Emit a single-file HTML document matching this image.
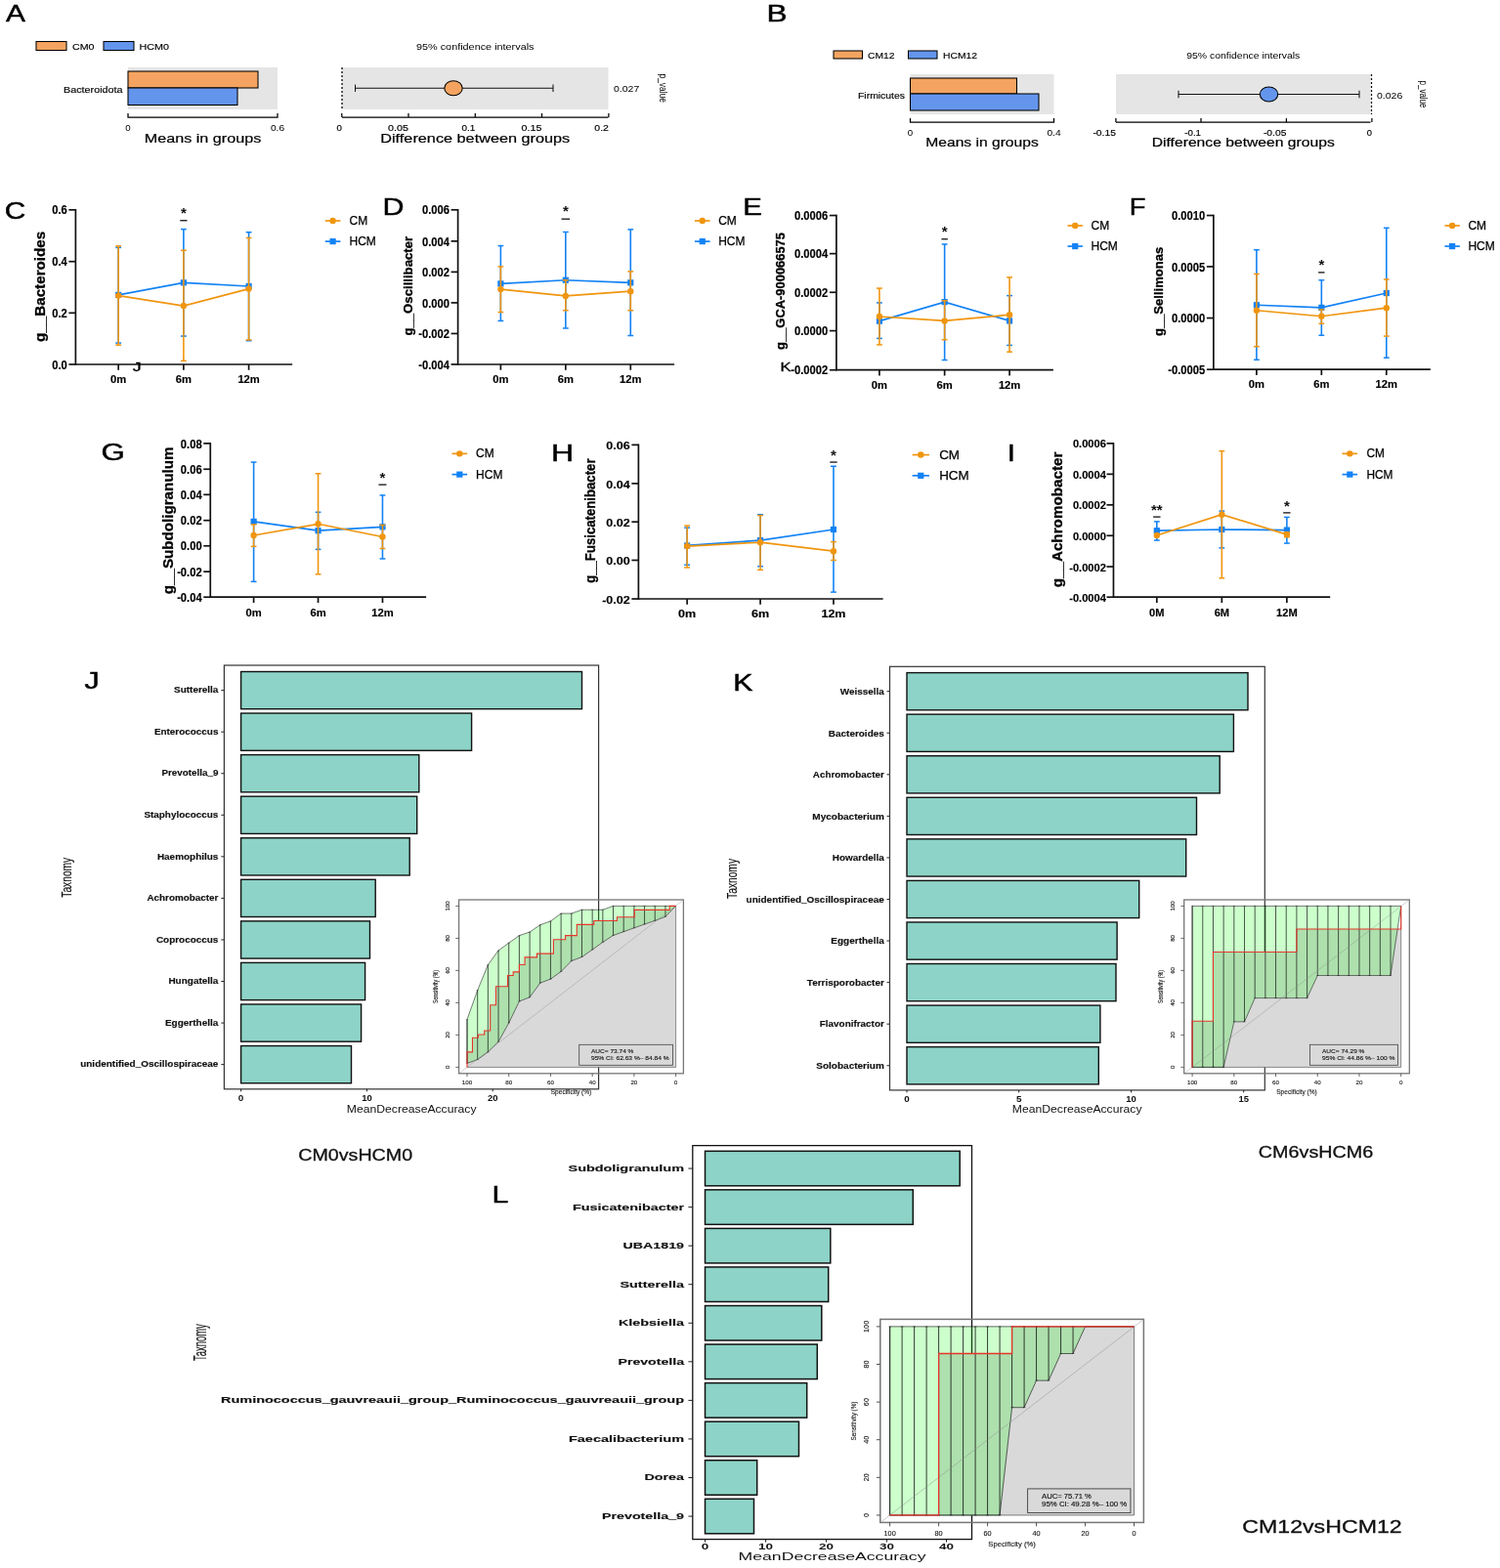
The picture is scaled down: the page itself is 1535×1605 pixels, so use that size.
<!DOCTYPE html>
<html lang="en">
<head>
<meta charset="utf-8">
<title>Figure</title>
<style>
html,body{margin:0;padding:0;background:#fff;}
body{width:1535px;height:1605px;overflow:hidden;}
svg{display:block;font-family:"Liberation Sans",sans-serif;}
</style>
</head>
<body>
<svg width="1535" height="1605" viewBox="0 0 1535 1605">
<rect x="0" y="0" width="1535" height="1605" fill="#ffffff"/>
<text font-size="24.49" transform="translate(6.1 21.8) scale(1.2218 1)" stroke="#000" stroke-width="0.45">A</text>
<rect x="37" y="42.5" width="31" height="9" fill="#F4A460" stroke="#000" stroke-width="1.05" />
<text x="74" y="51.2" font-size="9.4" textLength="22.5" lengthAdjust="spacingAndGlyphs" stroke="#000" stroke-width="0.15">CM0</text>
<rect x="106" y="42.5" width="31" height="9" fill="#6495ED" stroke="#000" stroke-width="1.05" />
<text x="142.5" y="51.2" font-size="9.4" textLength="30.5" lengthAdjust="spacingAndGlyphs" stroke="#000" stroke-width="0.15">HCM0</text>
<rect x="131" y="69" width="153" height="43" fill="#E5E5E5" stroke="none" stroke-width="1" />
<rect x="131" y="73" width="133" height="17" fill="#F4A460" stroke="#000" stroke-width="1.05" />
<rect x="131" y="90" width="112" height="17.5" fill="#6495ED" stroke="#000" stroke-width="1.05" />
<text x="125.5" y="95" font-size="9.8" textLength="60.5" lengthAdjust="spacingAndGlyphs" text-anchor="end" stroke="#000" stroke-width="0.15">Bacteroidota</text>
<path d="M131 116 L131 120 L284 120 L284 116" fill="none" stroke="#000" stroke-width="1.25" />
<text x="131" y="133.6" font-size="8.6" textLength="5.4" lengthAdjust="spacingAndGlyphs" text-anchor="middle">0</text>
<text x="284" y="133.6" font-size="8.6" textLength="14.2" lengthAdjust="spacingAndGlyphs" text-anchor="middle">0.6</text>
<text x="207.5" y="146.4" font-size="12.9" textLength="119.5" lengthAdjust="spacingAndGlyphs" text-anchor="middle" stroke="#000" stroke-width="0.2">Means in groups</text>
<rect x="350" y="69" width="272.5" height="43" fill="#E5E5E5" stroke="none" stroke-width="1" />
<line x1="350" y1="69" x2="350" y2="112" stroke="#000" stroke-width="1.25" stroke-dasharray="2 2"/>
<line x1="363.5" y1="90.25" x2="566" y2="90.25" stroke="#111" stroke-width="1.05" />
<line x1="363.5" y1="86.55" x2="363.5" y2="93.95" stroke="#111" stroke-width="1.05" />
<line x1="566" y1="86.55" x2="566" y2="93.95" stroke="#111" stroke-width="1.05" />
<ellipse cx="464" cy="90.25" rx="9.2" ry="7.5" fill="#F4A460" stroke="#000" stroke-width="1.05"/>
<line x1="350" y1="120" x2="622.5" y2="120" stroke="#000" stroke-width="1.25" />
<line x1="349.8" y1="116" x2="349.8" y2="120" stroke="#000" stroke-width="1.25" />
<text x="349.8" y="133.6" font-size="8.6" textLength="5.4" lengthAdjust="spacingAndGlyphs" text-anchor="end" stroke="#000" stroke-width="0.15">0</text>
<line x1="418" y1="116" x2="418" y2="120" stroke="#000" stroke-width="1.25" />
<text x="418" y="133.6" font-size="8.6" textLength="20.9" lengthAdjust="spacingAndGlyphs" text-anchor="end" stroke="#000" stroke-width="0.15">0.05</text>
<line x1="486.3" y1="116" x2="486.3" y2="120" stroke="#000" stroke-width="1.25" />
<text x="486.3" y="133.6" font-size="8.6" textLength="13.8" lengthAdjust="spacingAndGlyphs" text-anchor="end" stroke="#000" stroke-width="0.15">0.1</text>
<line x1="554.5" y1="116" x2="554.5" y2="120" stroke="#000" stroke-width="1.25" />
<text x="554.5" y="133.6" font-size="8.6" textLength="20.9" lengthAdjust="spacingAndGlyphs" text-anchor="end" stroke="#000" stroke-width="0.15">0.15</text>
<line x1="622.9" y1="116" x2="622.9" y2="120" stroke="#000" stroke-width="1.25" />
<text x="622.9" y="133.6" font-size="8.6" textLength="14.6" lengthAdjust="spacingAndGlyphs" text-anchor="end" stroke="#000" stroke-width="0.15">0.2</text>
<text x="486.25" y="146.4" font-size="12.6" textLength="194" lengthAdjust="spacingAndGlyphs" text-anchor="middle" stroke="#000" stroke-width="0.2">Difference between groups</text>
<text x="486.25" y="51" font-size="9.4" textLength="120.5" lengthAdjust="spacingAndGlyphs" text-anchor="middle">95% confidence intervals</text>
<text x="628" y="94.25" font-size="8.6" textLength="26.3" lengthAdjust="spacingAndGlyphs">0.027</text>
<text x="675" y="75.5" font-size="10.5" transform="rotate(90 675 75.5)" textLength="29.5" lengthAdjust="spacingAndGlyphs">p_value</text>
<text font-size="24.35" transform="translate(784.57 21.7) scale(1.2974 1)" stroke="#000" stroke-width="0.45">B</text>
<rect x="853" y="52" width="29.5" height="8" fill="#F4A460" stroke="#000" stroke-width="1.05" />
<text x="888" y="59.7" font-size="9.4" textLength="27.5" lengthAdjust="spacingAndGlyphs" stroke="#000" stroke-width="0.15">CM12</text>
<rect x="929.5" y="52" width="29.5" height="8" fill="#6495ED" stroke="#000" stroke-width="1.05" />
<text x="965" y="59.7" font-size="9.4" textLength="35" lengthAdjust="spacingAndGlyphs" stroke="#000" stroke-width="0.15">HCM12</text>
<rect x="931.5" y="76" width="147" height="41" fill="#E5E5E5" stroke="none" stroke-width="1" />
<rect x="931.5" y="80" width="109" height="16" fill="#F4A460" stroke="#000" stroke-width="1.05" />
<rect x="931.5" y="96" width="131.5" height="17" fill="#6495ED" stroke="#000" stroke-width="1.05" />
<text x="926" y="100.5" font-size="9.8" textLength="48" lengthAdjust="spacingAndGlyphs" text-anchor="end" stroke="#000" stroke-width="0.15">Firmicutes</text>
<path d="M931.5 121.1 L931.5 125.1 L1078.5 125.1 L1078.5 121.1" fill="none" stroke="#000" stroke-width="1.25" />
<text x="931.5" y="138.7" font-size="8.6" textLength="5.4" lengthAdjust="spacingAndGlyphs" text-anchor="middle">0</text>
<text x="1078.5" y="138.7" font-size="8.6" textLength="14.2" lengthAdjust="spacingAndGlyphs" text-anchor="middle">0.4</text>
<text x="1005" y="150.3" font-size="12.9" textLength="115.5" lengthAdjust="spacingAndGlyphs" text-anchor="middle" stroke="#000" stroke-width="0.2">Means in groups</text>
<rect x="1142" y="76" width="260.5" height="41" fill="#E5E5E5" stroke="none" stroke-width="1" />
<line x1="1403.5" y1="76" x2="1403.5" y2="117" stroke="#000" stroke-width="1.25" stroke-dasharray="2 2"/>
<line x1="1206" y1="96.5" x2="1391" y2="96.5" stroke="#111" stroke-width="1.05" />
<line x1="1206" y1="92.8" x2="1206" y2="100.2" stroke="#111" stroke-width="1.05" />
<line x1="1391" y1="92.8" x2="1391" y2="100.2" stroke="#111" stroke-width="1.05" />
<ellipse cx="1298.5" cy="96.5" rx="9.2" ry="7.5" fill="#6495ED" stroke="#000" stroke-width="1.05"/>
<line x1="1142" y1="125.1" x2="1402.5" y2="125.1" stroke="#000" stroke-width="1.25" />
<line x1="1141.9" y1="121.1" x2="1141.9" y2="125.1" stroke="#000" stroke-width="1.25" />
<text x="1141.9" y="138.7" font-size="8.6" textLength="23.5" lengthAdjust="spacingAndGlyphs" text-anchor="end" stroke="#000" stroke-width="0.15">-0.15</text>
<line x1="1229" y1="121.1" x2="1229" y2="125.1" stroke="#000" stroke-width="1.25" />
<text x="1229" y="138.7" font-size="8.6" textLength="16.7" lengthAdjust="spacingAndGlyphs" text-anchor="end" stroke="#000" stroke-width="0.15">-0.1</text>
<line x1="1316.4" y1="121.1" x2="1316.4" y2="125.1" stroke="#000" stroke-width="1.25" />
<text x="1316.4" y="138.7" font-size="8.6" textLength="23.5" lengthAdjust="spacingAndGlyphs" text-anchor="end" stroke="#000" stroke-width="0.15">-0.05</text>
<line x1="1403.9" y1="121.1" x2="1403.9" y2="125.1" stroke="#000" stroke-width="1.25" />
<text x="1403.9" y="138.7" font-size="8.6" textLength="5.2" lengthAdjust="spacingAndGlyphs" text-anchor="end" stroke="#000" stroke-width="0.15">0</text>
<text x="1272.25" y="150.3" font-size="12.6" textLength="187" lengthAdjust="spacingAndGlyphs" text-anchor="middle" stroke="#000" stroke-width="0.2">Difference between groups</text>
<text x="1272.25" y="60" font-size="9.4" textLength="116" lengthAdjust="spacingAndGlyphs" text-anchor="middle">95% confidence intervals</text>
<text x="1409" y="100.5" font-size="8.6" textLength="26.3" lengthAdjust="spacingAndGlyphs">0.026</text>
<text x="1453" y="82.5" font-size="10.5" transform="rotate(90 1453 82.5)" textLength="28" lengthAdjust="spacingAndGlyphs">p_value</text>
<line x1="121.17" y1="253.37" x2="121.17" y2="351.09" stroke="#1282F5" stroke-width="1.6" />
<line x1="118.27" y1="253.37" x2="124.07" y2="253.37" stroke="#1282F5" stroke-width="1.5" />
<line x1="118.27" y1="351.09" x2="124.07" y2="351.09" stroke="#1282F5" stroke-width="1.5" />
<line x1="187.88" y1="234.61" x2="187.88" y2="344.06" stroke="#1282F5" stroke-width="1.6" />
<line x1="184.98" y1="234.61" x2="190.78" y2="234.61" stroke="#1282F5" stroke-width="1.5" />
<line x1="184.98" y1="344.06" x2="190.78" y2="344.06" stroke="#1282F5" stroke-width="1.5" />
<line x1="254.59" y1="237.74" x2="254.59" y2="348.75" stroke="#1282F5" stroke-width="1.6" />
<line x1="251.69" y1="237.74" x2="257.49" y2="237.74" stroke="#1282F5" stroke-width="1.5" />
<line x1="251.69" y1="348.75" x2="257.49" y2="348.75" stroke="#1282F5" stroke-width="1.5" />
<path d="M121.17 301.84 L187.88 289.33 L254.59 292.98" fill="none" stroke="#1282F5" stroke-width="1.7" />
<rect x="118.07" y="298.74" width="6.2" height="6.2" fill="#1282F5" stroke="none" stroke-width="1" />
<rect x="184.78" y="286.23" width="6.2" height="6.2" fill="#1282F5" stroke="none" stroke-width="1" />
<rect x="251.49" y="289.88" width="6.2" height="6.2" fill="#1282F5" stroke="none" stroke-width="1" />
<line x1="121.17" y1="251.81" x2="121.17" y2="353.18" stroke="#F0950F" stroke-width="1.6" />
<line x1="118.27" y1="251.81" x2="124.07" y2="251.81" stroke="#F0950F" stroke-width="1.5" />
<line x1="118.27" y1="353.18" x2="124.07" y2="353.18" stroke="#F0950F" stroke-width="1.5" />
<line x1="187.88" y1="256.24" x2="187.88" y2="369.33" stroke="#F0950F" stroke-width="1.6" />
<line x1="184.98" y1="256.24" x2="190.78" y2="256.24" stroke="#F0950F" stroke-width="1.5" />
<line x1="184.98" y1="369.33" x2="190.78" y2="369.33" stroke="#F0950F" stroke-width="1.5" />
<line x1="254.59" y1="243.47" x2="254.59" y2="347.96" stroke="#F0950F" stroke-width="1.6" />
<line x1="251.69" y1="243.47" x2="257.49" y2="243.47" stroke="#F0950F" stroke-width="1.5" />
<line x1="251.69" y1="347.96" x2="257.49" y2="347.96" stroke="#F0950F" stroke-width="1.5" />
<path d="M121.17 302.62 L187.88 313.05 L254.59 295.59" fill="none" stroke="#F0950F" stroke-width="1.7" />
<circle cx="121.17" cy="302.62" r="3.2" fill="#F0950F" stroke="none" stroke-width="1"/>
<circle cx="187.88" cy="313.05" r="3.2" fill="#F0950F" stroke="none" stroke-width="1"/>
<circle cx="254.59" cy="295.59" r="3.2" fill="#F0950F" stroke="none" stroke-width="1"/>
<line x1="77.39" y1="213.95" x2="77.39" y2="373.83" stroke="#111" stroke-width="1.7" />
<line x1="77.39" y1="372.98" x2="299.15" y2="372.98" stroke="#111" stroke-width="1.7" />
<line x1="70.39" y1="214.8" x2="77.39" y2="214.8" stroke="#111" stroke-width="1.7" />
<text x="68.79" y="219.44" font-size="11.87" textLength="15.57" lengthAdjust="spacingAndGlyphs" font-weight="bold" text-anchor="end" stroke="#000" stroke-width="0.15">0.6</text>
<line x1="70.39" y1="267.7" x2="77.39" y2="267.7" stroke="#111" stroke-width="1.7" />
<text x="68.79" y="272.34" font-size="11.87" textLength="15.57" lengthAdjust="spacingAndGlyphs" font-weight="bold" text-anchor="end" stroke="#000" stroke-width="0.15">0.4</text>
<line x1="70.39" y1="320.34" x2="77.39" y2="320.34" stroke="#111" stroke-width="1.7" />
<text x="68.79" y="324.98" font-size="11.87" textLength="15.57" lengthAdjust="spacingAndGlyphs" font-weight="bold" text-anchor="end" stroke="#000" stroke-width="0.15">0.2</text>
<line x1="70.39" y1="372.98" x2="77.39" y2="372.98" stroke="#111" stroke-width="1.7" />
<text x="68.79" y="377.62" font-size="11.87" textLength="15.57" lengthAdjust="spacingAndGlyphs" font-weight="bold" text-anchor="end" stroke="#000" stroke-width="0.15">0.0</text>
<line x1="121.17" y1="372.98" x2="121.17" y2="378.78" stroke="#111" stroke-width="1.7" />
<text x="121.17" y="392.28" font-size="11.2" textLength="16.19" lengthAdjust="spacingAndGlyphs" font-weight="bold" text-anchor="middle" stroke="#000" stroke-width="0.15">0m</text>
<line x1="187.88" y1="372.98" x2="187.88" y2="378.78" stroke="#111" stroke-width="1.7" />
<text x="187.88" y="392.28" font-size="11.2" textLength="16.19" lengthAdjust="spacingAndGlyphs" font-weight="bold" text-anchor="middle" stroke="#000" stroke-width="0.15">6m</text>
<line x1="254.59" y1="372.98" x2="254.59" y2="378.78" stroke="#111" stroke-width="1.7" />
<text x="254.59" y="392.28" font-size="11.2" textLength="22.42" lengthAdjust="spacingAndGlyphs" font-weight="bold" text-anchor="middle" stroke="#000" stroke-width="0.15">12m</text>
<text x="45.86" y="350.05" font-size="14.5" transform="rotate(-90 45.86 350.05)" textLength="113.36" lengthAdjust="spacingAndGlyphs" font-weight="bold" stroke="#000" stroke-width="0.3">g__Bacteroides</text>
<line x1="332.77" y1="226.01" x2="348.4" y2="226.01" stroke="#F0950F" stroke-width="1.7" />
<circle cx="340.59" cy="226.01" r="3.2" fill="#F0950F" stroke="none" stroke-width="1"/>
<text x="357.52" y="230.01" font-size="12.72" textLength="18.66" lengthAdjust="spacingAndGlyphs" stroke="#000" stroke-width="0.25">CM</text>
<line x1="332.77" y1="247.12" x2="348.4" y2="247.12" stroke="#1282F5" stroke-width="1.7" />
<rect x="337.49" y="244.02" width="6.2" height="6.2" fill="#1282F5" stroke="none" stroke-width="1" />
<text x="357.52" y="251.12" font-size="12.72" textLength="27.33" lengthAdjust="spacingAndGlyphs" stroke="#000" stroke-width="0.25">HCM</text>
<text x="187.88" y="223.02" font-size="15" font-weight="bold" text-anchor="middle" fill="#111">*</text>
<line x1="184.28" y1="225.75" x2="191.48" y2="225.75" stroke="#111" stroke-width="1.3" />
<text font-size="24.37" transform="translate(4.81 223.66) scale(1.2215 1)" stroke="#000" stroke-width="0.45">C</text>
<line x1="512.38" y1="251.55" x2="512.38" y2="328.42" stroke="#1282F5" stroke-width="1.6" />
<line x1="509.48" y1="251.55" x2="515.28" y2="251.55" stroke="#1282F5" stroke-width="1.5" />
<line x1="509.48" y1="328.42" x2="515.28" y2="328.42" stroke="#1282F5" stroke-width="1.5" />
<line x1="578.83" y1="237.48" x2="578.83" y2="335.98" stroke="#1282F5" stroke-width="1.6" />
<line x1="575.93" y1="237.48" x2="581.73" y2="237.48" stroke="#1282F5" stroke-width="1.5" />
<line x1="575.93" y1="335.98" x2="581.73" y2="335.98" stroke="#1282F5" stroke-width="1.5" />
<line x1="645.28" y1="234.87" x2="645.28" y2="343.53" stroke="#1282F5" stroke-width="1.6" />
<line x1="642.38" y1="234.87" x2="648.18" y2="234.87" stroke="#1282F5" stroke-width="1.5" />
<line x1="642.38" y1="343.53" x2="648.18" y2="343.53" stroke="#1282F5" stroke-width="1.5" />
<path d="M512.38 290.37 L578.83 286.73 L645.28 289.33" fill="none" stroke="#1282F5" stroke-width="1.7" />
<rect x="509.28" y="287.27" width="6.2" height="6.2" fill="#1282F5" stroke="none" stroke-width="1" />
<rect x="575.73" y="283.63" width="6.2" height="6.2" fill="#1282F5" stroke="none" stroke-width="1" />
<rect x="642.18" y="286.23" width="6.2" height="6.2" fill="#1282F5" stroke="none" stroke-width="1" />
<line x1="512.38" y1="272.92" x2="512.38" y2="319.56" stroke="#F0950F" stroke-width="1.6" />
<line x1="509.48" y1="272.92" x2="515.28" y2="272.92" stroke="#F0950F" stroke-width="1.5" />
<line x1="509.48" y1="319.56" x2="515.28" y2="319.56" stroke="#F0950F" stroke-width="1.5" />
<line x1="578.83" y1="286.73" x2="578.83" y2="317.74" stroke="#F0950F" stroke-width="1.6" />
<line x1="575.93" y1="286.73" x2="581.73" y2="286.73" stroke="#F0950F" stroke-width="1.5" />
<line x1="575.93" y1="317.74" x2="581.73" y2="317.74" stroke="#F0950F" stroke-width="1.5" />
<line x1="645.28" y1="277.87" x2="645.28" y2="317.74" stroke="#F0950F" stroke-width="1.6" />
<line x1="642.38" y1="277.87" x2="648.18" y2="277.87" stroke="#F0950F" stroke-width="1.5" />
<line x1="642.38" y1="317.74" x2="648.18" y2="317.74" stroke="#F0950F" stroke-width="1.5" />
<path d="M512.38 296.11 L578.83 302.88 L645.28 298.19" fill="none" stroke="#F0950F" stroke-width="1.7" />
<circle cx="512.38" cy="296.11" r="3.2" fill="#F0950F" stroke="none" stroke-width="1"/>
<circle cx="578.83" cy="302.88" r="3.2" fill="#F0950F" stroke="none" stroke-width="1"/>
<circle cx="645.28" cy="298.19" r="3.2" fill="#F0950F" stroke="none" stroke-width="1"/>
<line x1="468.6" y1="213.95" x2="468.6" y2="373.83" stroke="#111" stroke-width="1.7" />
<line x1="468.6" y1="372.98" x2="690.1" y2="372.98" stroke="#111" stroke-width="1.7" />
<line x1="461.6" y1="214.8" x2="468.6" y2="214.8" stroke="#111" stroke-width="1.7" />
<text x="460" y="219.44" font-size="11.87" textLength="28.03" lengthAdjust="spacingAndGlyphs" font-weight="bold" text-anchor="end" stroke="#000" stroke-width="0.15">0.006</text>
<line x1="461.6" y1="246.86" x2="468.6" y2="246.86" stroke="#111" stroke-width="1.7" />
<text x="460" y="251.5" font-size="11.87" textLength="28.03" lengthAdjust="spacingAndGlyphs" font-weight="bold" text-anchor="end" stroke="#000" stroke-width="0.15">0.004</text>
<line x1="461.6" y1="278.39" x2="468.6" y2="278.39" stroke="#111" stroke-width="1.7" />
<text x="460" y="283.03" font-size="11.87" textLength="28.03" lengthAdjust="spacingAndGlyphs" font-weight="bold" text-anchor="end" stroke="#000" stroke-width="0.15">0.002</text>
<line x1="461.6" y1="309.92" x2="468.6" y2="309.92" stroke="#111" stroke-width="1.7" />
<text x="460" y="314.56" font-size="11.87" textLength="28.03" lengthAdjust="spacingAndGlyphs" font-weight="bold" text-anchor="end" stroke="#000" stroke-width="0.15">0.000</text>
<line x1="461.6" y1="341.45" x2="468.6" y2="341.45" stroke="#111" stroke-width="1.7" />
<text x="460" y="346.09" font-size="11.87" textLength="31.76" lengthAdjust="spacingAndGlyphs" font-weight="bold" text-anchor="end" stroke="#000" stroke-width="0.15">-0.002</text>
<line x1="461.6" y1="372.98" x2="468.6" y2="372.98" stroke="#111" stroke-width="1.7" />
<text x="460" y="377.62" font-size="11.87" textLength="31.76" lengthAdjust="spacingAndGlyphs" font-weight="bold" text-anchor="end" stroke="#000" stroke-width="0.15">-0.004</text>
<line x1="512.38" y1="372.98" x2="512.38" y2="378.78" stroke="#111" stroke-width="1.7" />
<text x="512.38" y="392.28" font-size="11.2" textLength="16.19" lengthAdjust="spacingAndGlyphs" font-weight="bold" text-anchor="middle" stroke="#000" stroke-width="0.15">0m</text>
<line x1="578.83" y1="372.98" x2="578.83" y2="378.78" stroke="#111" stroke-width="1.7" />
<text x="578.83" y="392.28" font-size="11.2" textLength="16.19" lengthAdjust="spacingAndGlyphs" font-weight="bold" text-anchor="middle" stroke="#000" stroke-width="0.15">6m</text>
<line x1="645.28" y1="372.98" x2="645.28" y2="378.78" stroke="#111" stroke-width="1.7" />
<text x="645.28" y="392.28" font-size="11.2" textLength="22.42" lengthAdjust="spacingAndGlyphs" font-weight="bold" text-anchor="middle" stroke="#000" stroke-width="0.15">12m</text>
<text x="422.48" y="343.53" font-size="13" transform="rotate(-90 422.48 343.53)" textLength="101.63" lengthAdjust="spacingAndGlyphs" font-weight="bold" stroke="#000" stroke-width="0.3">g__Oscillibacter</text>
<line x1="710.94" y1="226.01" x2="726.58" y2="226.01" stroke="#F0950F" stroke-width="1.7" />
<circle cx="718.76" cy="226.01" r="3.2" fill="#F0950F" stroke="none" stroke-width="1"/>
<text x="735.18" y="230.01" font-size="12.72" textLength="18.66" lengthAdjust="spacingAndGlyphs" stroke="#000" stroke-width="0.25">CM</text>
<line x1="710.94" y1="247.12" x2="726.58" y2="247.12" stroke="#1282F5" stroke-width="1.7" />
<rect x="715.66" y="244.02" width="6.2" height="6.2" fill="#1282F5" stroke="none" stroke-width="1" />
<text x="735.18" y="251.12" font-size="12.72" textLength="27.33" lengthAdjust="spacingAndGlyphs" stroke="#000" stroke-width="0.25">HCM</text>
<text x="578.83" y="221.46" font-size="15" font-weight="bold" text-anchor="middle" fill="#111">*</text>
<line x1="574.53" y1="224.19" x2="583.13" y2="224.19" stroke="#111" stroke-width="1.3" />
<text font-size="24.35" transform="translate(391.47 220.2) scale(1.2494 1)" stroke="#000" stroke-width="0.45">D</text>
<line x1="899.93" y1="309.92" x2="899.93" y2="346.4" stroke="#1282F5" stroke-width="1.6" />
<line x1="897.03" y1="309.92" x2="902.83" y2="309.92" stroke="#1282F5" stroke-width="1.5" />
<line x1="897.03" y1="346.4" x2="902.83" y2="346.4" stroke="#1282F5" stroke-width="1.5" />
<line x1="966.64" y1="249.98" x2="966.64" y2="368.55" stroke="#1282F5" stroke-width="1.6" />
<line x1="963.74" y1="249.98" x2="969.54" y2="249.98" stroke="#1282F5" stroke-width="1.5" />
<line x1="963.74" y1="368.55" x2="969.54" y2="368.55" stroke="#1282F5" stroke-width="1.5" />
<line x1="1033.09" y1="302.62" x2="1033.09" y2="353.44" stroke="#1282F5" stroke-width="1.6" />
<line x1="1030.19" y1="302.62" x2="1035.99" y2="302.62" stroke="#1282F5" stroke-width="1.5" />
<line x1="1030.19" y1="353.44" x2="1035.99" y2="353.44" stroke="#1282F5" stroke-width="1.5" />
<path d="M899.93 328.68 L966.64 309.14 L1033.09 328.42" fill="none" stroke="#1282F5" stroke-width="1.7" />
<rect x="896.83" y="325.58" width="6.2" height="6.2" fill="#1282F5" stroke="none" stroke-width="1" />
<rect x="963.54" y="306.04" width="6.2" height="6.2" fill="#1282F5" stroke="none" stroke-width="1" />
<rect x="1029.99" y="325.32" width="6.2" height="6.2" fill="#1282F5" stroke="none" stroke-width="1" />
<line x1="899.93" y1="295.07" x2="899.93" y2="352.92" stroke="#F0950F" stroke-width="1.6" />
<line x1="897.03" y1="295.07" x2="902.83" y2="295.07" stroke="#F0950F" stroke-width="1.5" />
<line x1="897.03" y1="352.92" x2="902.83" y2="352.92" stroke="#F0950F" stroke-width="1.5" />
<line x1="966.64" y1="307.83" x2="966.64" y2="347.7" stroke="#F0950F" stroke-width="1.6" />
<line x1="963.74" y1="307.83" x2="969.54" y2="307.83" stroke="#F0950F" stroke-width="1.5" />
<line x1="963.74" y1="347.7" x2="969.54" y2="347.7" stroke="#F0950F" stroke-width="1.5" />
<line x1="1033.09" y1="283.86" x2="1033.09" y2="360.21" stroke="#F0950F" stroke-width="1.6" />
<line x1="1030.19" y1="283.86" x2="1035.99" y2="283.86" stroke="#F0950F" stroke-width="1.5" />
<line x1="1030.19" y1="360.21" x2="1035.99" y2="360.21" stroke="#F0950F" stroke-width="1.5" />
<path d="M899.93 323.99 L966.64 328.42 L1033.09 322.17" fill="none" stroke="#F0950F" stroke-width="1.7" />
<circle cx="899.93" cy="323.99" r="3.2" fill="#F0950F" stroke="none" stroke-width="1"/>
<circle cx="966.64" cy="328.42" r="3.2" fill="#F0950F" stroke="none" stroke-width="1"/>
<circle cx="1033.09" cy="322.17" r="3.2" fill="#F0950F" stroke="none" stroke-width="1"/>
<line x1="855.9" y1="219.69" x2="855.9" y2="379.56" stroke="#111" stroke-width="1.7" />
<line x1="855.9" y1="378.71" x2="1077.92" y2="378.71" stroke="#111" stroke-width="1.7" />
<line x1="848.9" y1="220.54" x2="855.9" y2="220.54" stroke="#111" stroke-width="1.7" />
<text x="847.3" y="225.18" font-size="11.87" textLength="34.26" lengthAdjust="spacingAndGlyphs" font-weight="bold" text-anchor="end" stroke="#000" stroke-width="0.15">0.0006</text>
<line x1="848.9" y1="259.63" x2="855.9" y2="259.63" stroke="#111" stroke-width="1.7" />
<text x="847.3" y="264.27" font-size="11.87" textLength="34.26" lengthAdjust="spacingAndGlyphs" font-weight="bold" text-anchor="end" stroke="#000" stroke-width="0.15">0.0004</text>
<line x1="848.9" y1="299.23" x2="855.9" y2="299.23" stroke="#111" stroke-width="1.7" />
<text x="847.3" y="303.87" font-size="11.87" textLength="34.26" lengthAdjust="spacingAndGlyphs" font-weight="bold" text-anchor="end" stroke="#000" stroke-width="0.15">0.0002</text>
<line x1="848.9" y1="338.58" x2="855.9" y2="338.58" stroke="#111" stroke-width="1.7" />
<text x="847.3" y="343.22" font-size="11.87" textLength="34.26" lengthAdjust="spacingAndGlyphs" font-weight="bold" text-anchor="end" stroke="#000" stroke-width="0.15">0.0000</text>
<line x1="848.9" y1="378.71" x2="855.9" y2="378.71" stroke="#111" stroke-width="1.7" />
<text x="847.3" y="383.35" font-size="11.87" textLength="37.99" lengthAdjust="spacingAndGlyphs" font-weight="bold" text-anchor="end" stroke="#000" stroke-width="0.15">-0.0002</text>
<line x1="899.93" y1="378.71" x2="899.93" y2="384.51" stroke="#111" stroke-width="1.7" />
<text x="899.93" y="398.01" font-size="11.2" textLength="16.19" lengthAdjust="spacingAndGlyphs" font-weight="bold" text-anchor="middle" stroke="#000" stroke-width="0.15">0m</text>
<line x1="966.64" y1="378.71" x2="966.64" y2="384.51" stroke="#111" stroke-width="1.7" />
<text x="966.64" y="398.01" font-size="11.2" textLength="16.19" lengthAdjust="spacingAndGlyphs" font-weight="bold" text-anchor="middle" stroke="#000" stroke-width="0.15">6m</text>
<line x1="1033.09" y1="378.71" x2="1033.09" y2="384.51" stroke="#111" stroke-width="1.7" />
<text x="1033.09" y="398.01" font-size="11.2" textLength="22.42" lengthAdjust="spacingAndGlyphs" font-weight="bold" text-anchor="middle" stroke="#000" stroke-width="0.15">12m</text>
<text x="803.26" y="357.87" font-size="13" transform="rotate(-90 803.26 357.87)" textLength="119.87" lengthAdjust="spacingAndGlyphs" font-weight="bold" stroke="#000" stroke-width="0.3">g__GCA-900066575</text>
<line x1="1092.51" y1="230.96" x2="1107.88" y2="230.96" stroke="#F0950F" stroke-width="1.7" />
<circle cx="1100.2" cy="230.96" r="3.2" fill="#F0950F" stroke="none" stroke-width="1"/>
<text x="1116.48" y="234.96" font-size="12.72" textLength="18.66" lengthAdjust="spacingAndGlyphs" stroke="#000" stroke-width="0.25">CM</text>
<line x1="1092.51" y1="252.07" x2="1107.88" y2="252.07" stroke="#1282F5" stroke-width="1.7" />
<rect x="1097.1" y="248.97" width="6.2" height="6.2" fill="#1282F5" stroke="none" stroke-width="1" />
<text x="1116.48" y="256.07" font-size="12.72" textLength="27.33" lengthAdjust="spacingAndGlyphs" stroke="#000" stroke-width="0.25">HCM</text>
<text x="966.64" y="242.3" font-size="15" font-weight="bold" text-anchor="middle" fill="#111">*</text>
<line x1="963.44" y1="244.77" x2="969.84" y2="244.77" stroke="#111" stroke-width="1.3" />
<text font-size="24.35" transform="translate(760.35 220.2) scale(1.2058 1)" stroke="#000" stroke-width="0.45">E</text>
<line x1="1285.88" y1="255.72" x2="1285.88" y2="368.29" stroke="#1282F5" stroke-width="1.6" />
<line x1="1282.98" y1="255.72" x2="1288.78" y2="255.72" stroke="#1282F5" stroke-width="1.5" />
<line x1="1282.98" y1="368.29" x2="1288.78" y2="368.29" stroke="#1282F5" stroke-width="1.5" />
<line x1="1352.33" y1="286.73" x2="1352.33" y2="343.27" stroke="#1282F5" stroke-width="1.6" />
<line x1="1349.43" y1="286.73" x2="1355.23" y2="286.73" stroke="#1282F5" stroke-width="1.5" />
<line x1="1349.43" y1="343.27" x2="1355.23" y2="343.27" stroke="#1282F5" stroke-width="1.5" />
<line x1="1418.78" y1="233.31" x2="1418.78" y2="366.21" stroke="#1282F5" stroke-width="1.6" />
<line x1="1415.88" y1="233.31" x2="1421.68" y2="233.31" stroke="#1282F5" stroke-width="1.5" />
<line x1="1415.88" y1="366.21" x2="1421.68" y2="366.21" stroke="#1282F5" stroke-width="1.5" />
<path d="M1285.88 312.26 L1352.33 314.87 L1418.78 300.02" fill="none" stroke="#1282F5" stroke-width="1.7" />
<rect x="1282.78" y="309.16" width="6.2" height="6.2" fill="#1282F5" stroke="none" stroke-width="1" />
<rect x="1349.23" y="311.77" width="6.2" height="6.2" fill="#1282F5" stroke="none" stroke-width="1" />
<rect x="1415.68" y="296.92" width="6.2" height="6.2" fill="#1282F5" stroke="none" stroke-width="1" />
<line x1="1285.88" y1="280.47" x2="1285.88" y2="354.74" stroke="#F0950F" stroke-width="1.6" />
<line x1="1282.98" y1="280.47" x2="1288.78" y2="280.47" stroke="#F0950F" stroke-width="1.5" />
<line x1="1282.98" y1="354.74" x2="1288.78" y2="354.74" stroke="#F0950F" stroke-width="1.5" />
<line x1="1352.33" y1="316.95" x2="1352.33" y2="331.29" stroke="#F0950F" stroke-width="1.6" />
<line x1="1349.43" y1="316.95" x2="1355.23" y2="316.95" stroke="#F0950F" stroke-width="1.5" />
<line x1="1349.43" y1="331.29" x2="1355.23" y2="331.29" stroke="#F0950F" stroke-width="1.5" />
<line x1="1418.78" y1="285.94" x2="1418.78" y2="344.06" stroke="#F0950F" stroke-width="1.6" />
<line x1="1415.88" y1="285.94" x2="1421.68" y2="285.94" stroke="#F0950F" stroke-width="1.5" />
<line x1="1415.88" y1="344.06" x2="1421.68" y2="344.06" stroke="#F0950F" stroke-width="1.5" />
<path d="M1285.88 317.74 L1352.33 323.73 L1418.78 315.13" fill="none" stroke="#F0950F" stroke-width="1.7" />
<circle cx="1285.88" cy="317.74" r="3.2" fill="#F0950F" stroke="none" stroke-width="1"/>
<circle cx="1352.33" cy="323.73" r="3.2" fill="#F0950F" stroke="none" stroke-width="1"/>
<circle cx="1418.78" cy="315.13" r="3.2" fill="#F0950F" stroke="none" stroke-width="1"/>
<line x1="1241.84" y1="219.69" x2="1241.84" y2="379.04" stroke="#111" stroke-width="1.7" />
<line x1="1241.84" y1="378.19" x2="1463.86" y2="378.19" stroke="#111" stroke-width="1.7" />
<line x1="1234.84" y1="220.54" x2="1241.84" y2="220.54" stroke="#111" stroke-width="1.7" />
<text x="1233.24" y="225.18" font-size="11.87" textLength="34.26" lengthAdjust="spacingAndGlyphs" font-weight="bold" text-anchor="end" stroke="#000" stroke-width="0.15">0.0010</text>
<line x1="1234.84" y1="272.92" x2="1241.84" y2="272.92" stroke="#111" stroke-width="1.7" />
<text x="1233.24" y="277.56" font-size="11.87" textLength="34.26" lengthAdjust="spacingAndGlyphs" font-weight="bold" text-anchor="end" stroke="#000" stroke-width="0.15">0.0005</text>
<line x1="1234.84" y1="325.55" x2="1241.84" y2="325.55" stroke="#111" stroke-width="1.7" />
<text x="1233.24" y="330.19" font-size="11.87" textLength="34.26" lengthAdjust="spacingAndGlyphs" font-weight="bold" text-anchor="end" stroke="#000" stroke-width="0.15">0.0000</text>
<line x1="1234.84" y1="378.19" x2="1241.84" y2="378.19" stroke="#111" stroke-width="1.7" />
<text x="1233.24" y="382.83" font-size="11.87" textLength="37.99" lengthAdjust="spacingAndGlyphs" font-weight="bold" text-anchor="end" stroke="#000" stroke-width="0.15">-0.0005</text>
<line x1="1285.88" y1="378.19" x2="1285.88" y2="383.99" stroke="#111" stroke-width="1.7" />
<text x="1285.88" y="397.49" font-size="11.2" textLength="16.19" lengthAdjust="spacingAndGlyphs" font-weight="bold" text-anchor="middle" stroke="#000" stroke-width="0.15">0m</text>
<line x1="1352.33" y1="378.19" x2="1352.33" y2="383.99" stroke="#111" stroke-width="1.7" />
<text x="1352.33" y="397.49" font-size="11.2" textLength="16.19" lengthAdjust="spacingAndGlyphs" font-weight="bold" text-anchor="middle" stroke="#000" stroke-width="0.15">6m</text>
<line x1="1418.78" y1="378.19" x2="1418.78" y2="383.99" stroke="#111" stroke-width="1.7" />
<text x="1418.78" y="397.49" font-size="11.2" textLength="22.42" lengthAdjust="spacingAndGlyphs" font-weight="bold" text-anchor="middle" stroke="#000" stroke-width="0.15">12m</text>
<text x="1189.98" y="344.06" font-size="13" transform="rotate(-90 1189.98 344.06)" textLength="91.21" lengthAdjust="spacingAndGlyphs" font-weight="bold" stroke="#000" stroke-width="0.3">g__Sellimonas</text>
<line x1="1478.45" y1="230.96" x2="1493.83" y2="230.96" stroke="#F0950F" stroke-width="1.7" />
<circle cx="1486.14" cy="230.96" r="3.2" fill="#F0950F" stroke="none" stroke-width="1"/>
<text x="1502.43" y="234.96" font-size="12.72" textLength="18.66" lengthAdjust="spacingAndGlyphs" stroke="#000" stroke-width="0.25">CM</text>
<line x1="1478.45" y1="252.07" x2="1493.83" y2="252.07" stroke="#1282F5" stroke-width="1.7" />
<rect x="1483.04" y="248.97" width="6.2" height="6.2" fill="#1282F5" stroke="none" stroke-width="1" />
<text x="1502.43" y="256.07" font-size="12.72" textLength="27.33" lengthAdjust="spacingAndGlyphs" stroke="#000" stroke-width="0.25">HCM</text>
<text x="1352.33" y="276.18" font-size="15" font-weight="bold" text-anchor="middle" fill="#111">*</text>
<line x1="1349.13" y1="278.91" x2="1355.53" y2="278.91" stroke="#111" stroke-width="1.3" />
<text font-size="24.35" transform="translate(1155.81 220.2) scale(1.1232 1)" stroke="#000" stroke-width="0.45">F</text>
<line x1="259.62" y1="473.06" x2="259.62" y2="595.33" stroke="#1282F5" stroke-width="1.6" />
<line x1="256.72" y1="473.06" x2="262.52" y2="473.06" stroke="#1282F5" stroke-width="1.5" />
<line x1="256.72" y1="595.33" x2="262.52" y2="595.33" stroke="#1282F5" stroke-width="1.5" />
<line x1="325.54" y1="524.3" x2="325.54" y2="562.36" stroke="#1282F5" stroke-width="1.6" />
<line x1="322.64" y1="524.3" x2="328.44" y2="524.3" stroke="#1282F5" stroke-width="1.5" />
<line x1="322.64" y1="562.36" x2="328.44" y2="562.36" stroke="#1282F5" stroke-width="1.5" />
<line x1="391.47" y1="506.92" x2="391.47" y2="571.95" stroke="#1282F5" stroke-width="1.6" />
<line x1="388.57" y1="506.92" x2="394.37" y2="506.92" stroke="#1282F5" stroke-width="1.5" />
<line x1="388.57" y1="571.95" x2="394.37" y2="571.95" stroke="#1282F5" stroke-width="1.5" />
<path d="M259.62 533.89 L325.54 543.18 L391.47 539.29" fill="none" stroke="#1282F5" stroke-width="1.7" />
<rect x="256.52" y="530.79" width="6.2" height="6.2" fill="#1282F5" stroke="none" stroke-width="1" />
<rect x="322.44" y="540.08" width="6.2" height="6.2" fill="#1282F5" stroke="none" stroke-width="1" />
<rect x="388.37" y="536.19" width="6.2" height="6.2" fill="#1282F5" stroke="none" stroke-width="1" />
<line x1="259.62" y1="536.89" x2="259.62" y2="559.36" stroke="#F0950F" stroke-width="1.6" />
<line x1="256.72" y1="536.89" x2="262.52" y2="536.89" stroke="#F0950F" stroke-width="1.5" />
<line x1="256.72" y1="559.36" x2="262.52" y2="559.36" stroke="#F0950F" stroke-width="1.5" />
<line x1="325.54" y1="484.75" x2="325.54" y2="587.83" stroke="#F0950F" stroke-width="1.6" />
<line x1="322.64" y1="484.75" x2="328.44" y2="484.75" stroke="#F0950F" stroke-width="1.5" />
<line x1="322.64" y1="587.83" x2="328.44" y2="587.83" stroke="#F0950F" stroke-width="1.5" />
<line x1="391.47" y1="537.49" x2="391.47" y2="561.46" stroke="#F0950F" stroke-width="1.6" />
<line x1="388.57" y1="537.49" x2="394.37" y2="537.49" stroke="#F0950F" stroke-width="1.5" />
<line x1="388.57" y1="561.46" x2="394.37" y2="561.46" stroke="#F0950F" stroke-width="1.5" />
<path d="M259.62 547.98 L325.54 536.29 L391.47 549.48" fill="none" stroke="#F0950F" stroke-width="1.7" />
<circle cx="259.62" cy="547.98" r="3.2" fill="#F0950F" stroke="none" stroke-width="1"/>
<circle cx="325.54" cy="536.29" r="3.2" fill="#F0950F" stroke="none" stroke-width="1"/>
<circle cx="391.47" cy="549.48" r="3.2" fill="#F0950F" stroke="none" stroke-width="1"/>
<line x1="215.26" y1="453.03" x2="215.26" y2="612.06" stroke="#111" stroke-width="1.7" />
<line x1="215.26" y1="611.21" x2="436.12" y2="611.21" stroke="#111" stroke-width="1.7" />
<line x1="208.26" y1="453.88" x2="215.26" y2="453.88" stroke="#111" stroke-width="1.7" />
<text x="206.66" y="458.52" font-size="11.87" textLength="21.8" lengthAdjust="spacingAndGlyphs" font-weight="bold" text-anchor="end" stroke="#000" stroke-width="0.15">0.08</text>
<line x1="208.26" y1="480.25" x2="215.26" y2="480.25" stroke="#111" stroke-width="1.7" />
<text x="206.66" y="484.89" font-size="11.87" textLength="21.8" lengthAdjust="spacingAndGlyphs" font-weight="bold" text-anchor="end" stroke="#000" stroke-width="0.15">0.06</text>
<line x1="208.26" y1="506.32" x2="215.26" y2="506.32" stroke="#111" stroke-width="1.7" />
<text x="206.66" y="510.96" font-size="11.87" textLength="21.8" lengthAdjust="spacingAndGlyphs" font-weight="bold" text-anchor="end" stroke="#000" stroke-width="0.15">0.04</text>
<line x1="208.26" y1="532.69" x2="215.26" y2="532.69" stroke="#111" stroke-width="1.7" />
<text x="206.66" y="537.33" font-size="11.87" textLength="21.8" lengthAdjust="spacingAndGlyphs" font-weight="bold" text-anchor="end" stroke="#000" stroke-width="0.15">0.02</text>
<line x1="208.26" y1="558.77" x2="215.26" y2="558.77" stroke="#111" stroke-width="1.7" />
<text x="206.66" y="563.41" font-size="11.87" textLength="21.8" lengthAdjust="spacingAndGlyphs" font-weight="bold" text-anchor="end" stroke="#000" stroke-width="0.15">0.00</text>
<line x1="208.26" y1="585.14" x2="215.26" y2="585.14" stroke="#111" stroke-width="1.7" />
<text x="206.66" y="589.78" font-size="11.87" textLength="25.53" lengthAdjust="spacingAndGlyphs" font-weight="bold" text-anchor="end" stroke="#000" stroke-width="0.15">-0.02</text>
<line x1="208.26" y1="611.21" x2="215.26" y2="611.21" stroke="#111" stroke-width="1.7" />
<text x="206.66" y="615.85" font-size="11.87" textLength="25.53" lengthAdjust="spacingAndGlyphs" font-weight="bold" text-anchor="end" stroke="#000" stroke-width="0.15">-0.04</text>
<line x1="259.62" y1="611.21" x2="259.62" y2="617.01" stroke="#111" stroke-width="1.7" />
<text x="259.62" y="630.51" font-size="11.2" textLength="16.19" lengthAdjust="spacingAndGlyphs" font-weight="bold" text-anchor="middle" stroke="#000" stroke-width="0.15">0m</text>
<line x1="325.54" y1="611.21" x2="325.54" y2="617.01" stroke="#111" stroke-width="1.7" />
<text x="325.54" y="630.51" font-size="11.2" textLength="16.19" lengthAdjust="spacingAndGlyphs" font-weight="bold" text-anchor="middle" stroke="#000" stroke-width="0.15">6m</text>
<line x1="391.47" y1="611.21" x2="391.47" y2="617.01" stroke="#111" stroke-width="1.7" />
<text x="391.47" y="630.51" font-size="11.2" textLength="22.42" lengthAdjust="spacingAndGlyphs" font-weight="bold" text-anchor="middle" stroke="#000" stroke-width="0.15">12m</text>
<text x="176.91" y="608.21" font-size="15" transform="rotate(-90 176.91 608.21)" textLength="150.74" lengthAdjust="spacingAndGlyphs" font-weight="bold" stroke="#000" stroke-width="0.3">g__Subdoligranulum</text>
<line x1="462.5" y1="464.37" x2="478.08" y2="464.37" stroke="#F0950F" stroke-width="1.7" />
<circle cx="470.29" cy="464.37" r="3.2" fill="#F0950F" stroke="none" stroke-width="1"/>
<text x="487.07" y="468.37" font-size="12.72" textLength="18.66" lengthAdjust="spacingAndGlyphs" stroke="#000" stroke-width="0.25">CM</text>
<line x1="462.5" y1="485.64" x2="478.08" y2="485.64" stroke="#1282F5" stroke-width="1.7" />
<rect x="467.19" y="482.54" width="6.2" height="6.2" fill="#1282F5" stroke="none" stroke-width="1" />
<text x="487.07" y="489.64" font-size="12.72" textLength="27.33" lengthAdjust="spacingAndGlyphs" stroke="#000" stroke-width="0.25">HCM</text>
<text x="391.47" y="493.64" font-size="15" font-weight="bold" text-anchor="middle" fill="#111">*</text>
<line x1="387.47" y1="496.13" x2="395.47" y2="496.13" stroke="#111" stroke-width="1.3" />
<text font-size="24.23" transform="translate(103.44 471.46) scale(1.2919 1)" stroke="#000" stroke-width="0.45">G</text>
<line x1="703.13" y1="540.19" x2="703.13" y2="578.24" stroke="#1282F5" stroke-width="1.6" />
<line x1="700.23" y1="540.19" x2="706.03" y2="540.19" stroke="#1282F5" stroke-width="1.5" />
<line x1="700.23" y1="578.24" x2="706.03" y2="578.24" stroke="#1282F5" stroke-width="1.5" />
<line x1="778.05" y1="526.7" x2="778.05" y2="579.74" stroke="#1282F5" stroke-width="1.6" />
<line x1="775.15" y1="526.7" x2="780.95" y2="526.7" stroke="#1282F5" stroke-width="1.5" />
<line x1="775.15" y1="579.74" x2="780.95" y2="579.74" stroke="#1282F5" stroke-width="1.5" />
<line x1="852.97" y1="477.25" x2="852.97" y2="606.11" stroke="#1282F5" stroke-width="1.6" />
<line x1="850.07" y1="477.25" x2="855.87" y2="477.25" stroke="#1282F5" stroke-width="1.5" />
<line x1="850.07" y1="606.11" x2="855.87" y2="606.11" stroke="#1282F5" stroke-width="1.5" />
<path d="M703.13 558.47 L778.05 553.07 L852.97 541.98" fill="none" stroke="#1282F5" stroke-width="1.7" />
<rect x="700.03" y="555.37" width="6.2" height="6.2" fill="#1282F5" stroke="none" stroke-width="1" />
<rect x="774.95" y="549.97" width="6.2" height="6.2" fill="#1282F5" stroke="none" stroke-width="1" />
<rect x="849.87" y="538.88" width="6.2" height="6.2" fill="#1282F5" stroke="none" stroke-width="1" />
<line x1="703.13" y1="538.09" x2="703.13" y2="580.94" stroke="#F0950F" stroke-width="1.6" />
<line x1="700.23" y1="538.09" x2="706.03" y2="538.09" stroke="#F0950F" stroke-width="1.5" />
<line x1="700.23" y1="580.94" x2="706.03" y2="580.94" stroke="#F0950F" stroke-width="1.5" />
<line x1="778.05" y1="527.6" x2="778.05" y2="583.34" stroke="#F0950F" stroke-width="1.6" />
<line x1="775.15" y1="527.6" x2="780.95" y2="527.6" stroke="#F0950F" stroke-width="1.5" />
<line x1="775.15" y1="583.34" x2="780.95" y2="583.34" stroke="#F0950F" stroke-width="1.5" />
<line x1="852.97" y1="554.57" x2="852.97" y2="573.45" stroke="#F0950F" stroke-width="1.6" />
<line x1="850.07" y1="554.57" x2="855.87" y2="554.57" stroke="#F0950F" stroke-width="1.5" />
<line x1="850.07" y1="573.45" x2="855.87" y2="573.45" stroke="#F0950F" stroke-width="1.5" />
<path d="M703.13 559.07 L778.05 555.17 L852.97 564.16" fill="none" stroke="#F0950F" stroke-width="1.7" />
<circle cx="703.13" cy="559.07" r="3.2" fill="#F0950F" stroke="none" stroke-width="1"/>
<circle cx="778.05" cy="555.17" r="3.2" fill="#F0950F" stroke="none" stroke-width="1"/>
<circle cx="852.97" cy="564.16" r="3.2" fill="#F0950F" stroke="none" stroke-width="1"/>
<line x1="653.39" y1="454.53" x2="653.39" y2="613.86" stroke="#111" stroke-width="1.7" />
<line x1="653.39" y1="613.01" x2="903.62" y2="613.01" stroke="#111" stroke-width="1.7" />
<line x1="646.39" y1="455.38" x2="653.39" y2="455.38" stroke="#111" stroke-width="1.7" />
<text x="644.79" y="459.98" font-size="11.76" textLength="24.41" lengthAdjust="spacingAndGlyphs" font-weight="bold" text-anchor="end" stroke="#000" stroke-width="0.15">0.06</text>
<line x1="646.39" y1="494.93" x2="653.39" y2="494.93" stroke="#111" stroke-width="1.7" />
<text x="644.79" y="499.53" font-size="11.76" textLength="24.41" lengthAdjust="spacingAndGlyphs" font-weight="bold" text-anchor="end" stroke="#000" stroke-width="0.15">0.04</text>
<line x1="646.39" y1="534.19" x2="653.39" y2="534.19" stroke="#111" stroke-width="1.7" />
<text x="644.79" y="538.79" font-size="11.76" textLength="24.41" lengthAdjust="spacingAndGlyphs" font-weight="bold" text-anchor="end" stroke="#000" stroke-width="0.15">0.02</text>
<line x1="646.39" y1="573.45" x2="653.39" y2="573.45" stroke="#111" stroke-width="1.7" />
<text x="644.79" y="578.05" font-size="11.76" textLength="24.41" lengthAdjust="spacingAndGlyphs" font-weight="bold" text-anchor="end" stroke="#000" stroke-width="0.15">0.00</text>
<line x1="646.39" y1="613.01" x2="653.39" y2="613.01" stroke="#111" stroke-width="1.7" />
<text x="644.79" y="617.61" font-size="11.76" textLength="28.59" lengthAdjust="spacingAndGlyphs" font-weight="bold" text-anchor="end" stroke="#000" stroke-width="0.15">-0.02</text>
<line x1="703.13" y1="613.01" x2="703.13" y2="618.81" stroke="#111" stroke-width="1.7" />
<text x="703.13" y="632.31" font-size="11.2" textLength="18.13" lengthAdjust="spacingAndGlyphs" font-weight="bold" text-anchor="middle" stroke="#000" stroke-width="0.15">0m</text>
<line x1="778.05" y1="613.01" x2="778.05" y2="618.81" stroke="#111" stroke-width="1.7" />
<text x="778.05" y="632.31" font-size="11.2" textLength="18.13" lengthAdjust="spacingAndGlyphs" font-weight="bold" text-anchor="middle" stroke="#000" stroke-width="0.15">6m</text>
<line x1="852.97" y1="613.01" x2="852.97" y2="618.81" stroke="#111" stroke-width="1.7" />
<text x="852.97" y="632.31" font-size="11.2" textLength="25.11" lengthAdjust="spacingAndGlyphs" font-weight="bold" text-anchor="middle" stroke="#000" stroke-width="0.15">12m</text>
<text x="609.34" y="596.82" font-size="14.78" transform="rotate(-90 609.34 596.82)" textLength="127.36" lengthAdjust="spacingAndGlyphs" font-weight="bold" stroke="#000" stroke-width="0.3">g__Fusicatenibacter</text>
<line x1="933.58" y1="465.57" x2="950.96" y2="465.57" stroke="#F0950F" stroke-width="1.7" />
<circle cx="942.27" cy="465.57" r="3.2" fill="#F0950F" stroke="none" stroke-width="1"/>
<text x="961.15" y="469.57" font-size="12.6" textLength="20.9" lengthAdjust="spacingAndGlyphs" stroke="#000" stroke-width="0.25">CM</text>
<line x1="933.58" y1="486.84" x2="950.96" y2="486.84" stroke="#1282F5" stroke-width="1.7" />
<rect x="939.17" y="483.74" width="6.2" height="6.2" fill="#1282F5" stroke="none" stroke-width="1" />
<text x="961.15" y="490.84" font-size="12.6" textLength="30.61" lengthAdjust="spacingAndGlyphs" stroke="#000" stroke-width="0.25">HCM</text>
<text x="852.97" y="470.56" font-size="15" font-weight="bold" text-anchor="middle" fill="#111">*</text>
<line x1="849.27" y1="473.06" x2="856.67" y2="473.06" stroke="#111" stroke-width="1.3" />
<text font-size="24.35" transform="translate(563.93 471.6) scale(1.3202 1)" stroke="#000" stroke-width="0.45">H</text>
<line x1="1183.81" y1="533.89" x2="1183.81" y2="553.07" stroke="#1282F5" stroke-width="1.6" />
<line x1="1180.91" y1="533.89" x2="1186.71" y2="533.89" stroke="#1282F5" stroke-width="1.5" />
<line x1="1180.91" y1="553.07" x2="1186.71" y2="553.07" stroke="#1282F5" stroke-width="1.5" />
<line x1="1250.34" y1="523.1" x2="1250.34" y2="560.86" stroke="#1282F5" stroke-width="1.6" />
<line x1="1247.44" y1="523.1" x2="1253.24" y2="523.1" stroke="#1282F5" stroke-width="1.5" />
<line x1="1247.44" y1="560.86" x2="1253.24" y2="560.86" stroke="#1282F5" stroke-width="1.5" />
<line x1="1316.87" y1="529.4" x2="1316.87" y2="556.07" stroke="#1282F5" stroke-width="1.6" />
<line x1="1313.97" y1="529.4" x2="1319.77" y2="529.4" stroke="#1282F5" stroke-width="1.5" />
<line x1="1313.97" y1="556.07" x2="1319.77" y2="556.07" stroke="#1282F5" stroke-width="1.5" />
<path d="M1183.81 543.18 L1250.34 541.98 L1316.87 542.58" fill="none" stroke="#1282F5" stroke-width="1.7" />
<rect x="1180.71" y="540.08" width="6.2" height="6.2" fill="#1282F5" stroke="none" stroke-width="1" />
<rect x="1247.24" y="538.88" width="6.2" height="6.2" fill="#1282F5" stroke="none" stroke-width="1" />
<rect x="1313.77" y="539.48" width="6.2" height="6.2" fill="#1282F5" stroke="none" stroke-width="1" />
<line x1="1250.34" y1="461.67" x2="1250.34" y2="591.73" stroke="#F0950F" stroke-width="1.6" />
<line x1="1247.44" y1="461.67" x2="1253.24" y2="461.67" stroke="#F0950F" stroke-width="1.5" />
<line x1="1247.44" y1="591.73" x2="1253.24" y2="591.73" stroke="#F0950F" stroke-width="1.5" />
<line x1="1316.87" y1="544.68" x2="1316.87" y2="549.78" stroke="#F0950F" stroke-width="1.6" />
<line x1="1313.97" y1="544.68" x2="1319.77" y2="544.68" stroke="#F0950F" stroke-width="1.5" />
<line x1="1313.97" y1="549.78" x2="1319.77" y2="549.78" stroke="#F0950F" stroke-width="1.5" />
<path d="M1183.81 547.98 L1250.34 526.7 L1316.87 547.08" fill="none" stroke="#F0950F" stroke-width="1.7" />
<circle cx="1183.81" cy="547.98" r="3.2" fill="#F0950F" stroke="none" stroke-width="1"/>
<circle cx="1250.34" cy="526.7" r="3.2" fill="#F0950F" stroke="none" stroke-width="1"/>
<circle cx="1316.87" cy="547.08" r="3.2" fill="#F0950F" stroke="none" stroke-width="1"/>
<line x1="1139.46" y1="453.03" x2="1139.46" y2="612.06" stroke="#111" stroke-width="1.7" />
<line x1="1139.46" y1="611.21" x2="1361.22" y2="611.21" stroke="#111" stroke-width="1.7" />
<line x1="1132.46" y1="453.88" x2="1139.46" y2="453.88" stroke="#111" stroke-width="1.7" />
<text x="1131.86" y="458.44" font-size="11.65" textLength="33.91" lengthAdjust="spacingAndGlyphs" font-weight="bold" text-anchor="end" stroke="#000" stroke-width="0.15">0.0006</text>
<line x1="1132.46" y1="485.35" x2="1139.46" y2="485.35" stroke="#111" stroke-width="1.7" />
<text x="1131.86" y="489.91" font-size="11.65" textLength="33.91" lengthAdjust="spacingAndGlyphs" font-weight="bold" text-anchor="end" stroke="#000" stroke-width="0.15">0.0004</text>
<line x1="1132.46" y1="516.81" x2="1139.46" y2="516.81" stroke="#111" stroke-width="1.7" />
<text x="1131.86" y="521.37" font-size="11.65" textLength="33.91" lengthAdjust="spacingAndGlyphs" font-weight="bold" text-anchor="end" stroke="#000" stroke-width="0.15">0.0002</text>
<line x1="1132.46" y1="548.28" x2="1139.46" y2="548.28" stroke="#111" stroke-width="1.7" />
<text x="1131.86" y="552.84" font-size="11.65" textLength="33.91" lengthAdjust="spacingAndGlyphs" font-weight="bold" text-anchor="end" stroke="#000" stroke-width="0.15">0.0000</text>
<line x1="1132.46" y1="580.04" x2="1139.46" y2="580.04" stroke="#111" stroke-width="1.7" />
<text x="1131.86" y="584.6" font-size="11.65" textLength="37.61" lengthAdjust="spacingAndGlyphs" font-weight="bold" text-anchor="end" stroke="#000" stroke-width="0.15">-0.0002</text>
<line x1="1132.46" y1="611.21" x2="1139.46" y2="611.21" stroke="#111" stroke-width="1.7" />
<text x="1131.86" y="615.77" font-size="11.65" textLength="37.61" lengthAdjust="spacingAndGlyphs" font-weight="bold" text-anchor="end" stroke="#000" stroke-width="0.15">-0.0004</text>
<line x1="1183.81" y1="611.21" x2="1183.81" y2="617.01" stroke="#111" stroke-width="1.7" />
<text x="1183.81" y="630.51" font-size="11.2" textLength="15.4" lengthAdjust="spacingAndGlyphs" font-weight="bold" text-anchor="middle" stroke="#000" stroke-width="0.15">0M</text>
<line x1="1250.34" y1="611.21" x2="1250.34" y2="617.01" stroke="#111" stroke-width="1.7" />
<text x="1250.34" y="630.51" font-size="11.2" textLength="15.4" lengthAdjust="spacingAndGlyphs" font-weight="bold" text-anchor="middle" stroke="#000" stroke-width="0.15">6M</text>
<line x1="1316.87" y1="611.21" x2="1316.87" y2="617.01" stroke="#111" stroke-width="1.7" />
<text x="1316.87" y="630.51" font-size="11.2" textLength="21.57" lengthAdjust="spacingAndGlyphs" font-weight="bold" text-anchor="middle" stroke="#000" stroke-width="0.15">12M</text>
<text x="1086.72" y="601.32" font-size="14.85" transform="rotate(-90 1086.72 601.32)" textLength="138.75" lengthAdjust="spacingAndGlyphs" font-weight="bold" stroke="#000" stroke-width="0.3">g__Achromobacter</text>
<line x1="1373.5" y1="464.37" x2="1389.09" y2="464.37" stroke="#F0950F" stroke-width="1.7" />
<circle cx="1381.3" cy="464.37" r="3.2" fill="#F0950F" stroke="none" stroke-width="1"/>
<text x="1398.38" y="468.37" font-size="12.48" textLength="18.48" lengthAdjust="spacingAndGlyphs" stroke="#000" stroke-width="0.25">CM</text>
<line x1="1373.5" y1="485.64" x2="1389.09" y2="485.64" stroke="#1282F5" stroke-width="1.7" />
<rect x="1378.2" y="482.54" width="6.2" height="6.2" fill="#1282F5" stroke="none" stroke-width="1" />
<text x="1398.38" y="489.64" font-size="12.48" textLength="27.06" lengthAdjust="spacingAndGlyphs" stroke="#000" stroke-width="0.25">HCM</text>
<text x="1183.81" y="526.9" font-size="15" font-weight="bold" text-anchor="middle" fill="#111">**</text>
<line x1="1180.11" y1="529.1" x2="1187.51" y2="529.1" stroke="#111" stroke-width="1.3" />
<text x="1316.87" y="523.01" font-size="15" font-weight="bold" text-anchor="middle" fill="#111">*</text>
<line x1="1313.17" y1="524.9" x2="1320.57" y2="524.9" stroke="#111" stroke-width="1.3" />
<text font-size="24.35" transform="translate(1030.85 471.6) scale(1.2105 1)" stroke="#000" stroke-width="0.45">I</text>
<text font-size="13.29" transform="translate(135.83 379.67) scale(1.3402 1)" stroke="#000" stroke-width="0.3">J</text>
<text font-size="13.62" transform="translate(798.46 380) scale(1.2255 1)" stroke="#000" stroke-width="0.3">K</text>
<rect x="246.6" y="687.5" width="348.9" height="38.2" fill="#8DD3C7" stroke="#111" stroke-width="1.4" />
<line x1="226.3" y1="706.6" x2="229.4" y2="706.6" stroke="#222" stroke-width="1" />
<text x="223.4" y="709.3" font-size="9.6" textLength="45.3" lengthAdjust="spacingAndGlyphs" font-weight="bold" text-anchor="end" fill="#111" stroke="#111" stroke-width="0.15">Sutterella</text>
<rect x="246.6" y="730.06" width="236" height="38.2" fill="#8DD3C7" stroke="#111" stroke-width="1.4" />
<line x1="226.3" y1="749.16" x2="229.4" y2="749.16" stroke="#222" stroke-width="1" />
<text x="223.4" y="751.86" font-size="9.6" textLength="65.5" lengthAdjust="spacingAndGlyphs" font-weight="bold" text-anchor="end" fill="#111" stroke="#111" stroke-width="0.15">Enterococcus</text>
<rect x="246.6" y="772.62" width="182.2" height="38.2" fill="#8DD3C7" stroke="#111" stroke-width="1.4" />
<line x1="226.3" y1="791.72" x2="229.4" y2="791.72" stroke="#222" stroke-width="1" />
<text x="223.4" y="794.42" font-size="9.6" textLength="58" lengthAdjust="spacingAndGlyphs" font-weight="bold" text-anchor="end" fill="#111" stroke="#111" stroke-width="0.15">Prevotella_9</text>
<rect x="246.6" y="815.18" width="180.1" height="38.2" fill="#8DD3C7" stroke="#111" stroke-width="1.4" />
<line x1="226.3" y1="834.28" x2="229.4" y2="834.28" stroke="#222" stroke-width="1" />
<text x="223.4" y="836.98" font-size="9.6" textLength="76" lengthAdjust="spacingAndGlyphs" font-weight="bold" text-anchor="end" fill="#111" stroke="#111" stroke-width="0.15">Staphylococcus</text>
<rect x="246.6" y="857.74" width="172.6" height="38.2" fill="#8DD3C7" stroke="#111" stroke-width="1.4" />
<line x1="226.3" y1="876.84" x2="229.4" y2="876.84" stroke="#222" stroke-width="1" />
<text x="223.4" y="879.54" font-size="9.6" textLength="62.5" lengthAdjust="spacingAndGlyphs" font-weight="bold" text-anchor="end" fill="#111" stroke="#111" stroke-width="0.15">Haemophilus</text>
<rect x="246.6" y="900.3" width="137.6" height="38.2" fill="#8DD3C7" stroke="#111" stroke-width="1.4" />
<line x1="226.3" y1="919.4" x2="229.4" y2="919.4" stroke="#222" stroke-width="1" />
<text x="223.4" y="922.1" font-size="9.6" textLength="73" lengthAdjust="spacingAndGlyphs" font-weight="bold" text-anchor="end" fill="#111" stroke="#111" stroke-width="0.15">Achromobacter</text>
<rect x="246.6" y="942.86" width="131.9" height="38.2" fill="#8DD3C7" stroke="#111" stroke-width="1.4" />
<line x1="226.3" y1="961.96" x2="229.4" y2="961.96" stroke="#222" stroke-width="1" />
<text x="223.4" y="964.66" font-size="9.6" textLength="63.5" lengthAdjust="spacingAndGlyphs" font-weight="bold" text-anchor="end" fill="#111" stroke="#111" stroke-width="0.15">Coprococcus</text>
<rect x="246.6" y="985.42" width="127" height="38.2" fill="#8DD3C7" stroke="#111" stroke-width="1.4" />
<line x1="226.3" y1="1004.52" x2="229.4" y2="1004.52" stroke="#222" stroke-width="1" />
<text x="223.4" y="1007.22" font-size="9.6" textLength="51" lengthAdjust="spacingAndGlyphs" font-weight="bold" text-anchor="end" fill="#111" stroke="#111" stroke-width="0.15">Hungatella</text>
<rect x="246.6" y="1027.98" width="123" height="38.2" fill="#8DD3C7" stroke="#111" stroke-width="1.4" />
<line x1="226.3" y1="1047.08" x2="229.4" y2="1047.08" stroke="#222" stroke-width="1" />
<text x="223.4" y="1049.78" font-size="9.6" textLength="54.5" lengthAdjust="spacingAndGlyphs" font-weight="bold" text-anchor="end" fill="#111" stroke="#111" stroke-width="0.15">Eggerthella</text>
<rect x="246.6" y="1070.54" width="112.9" height="38.2" fill="#8DD3C7" stroke="#111" stroke-width="1.4" />
<line x1="226.3" y1="1089.64" x2="229.4" y2="1089.64" stroke="#222" stroke-width="1" />
<text x="223.4" y="1092.34" font-size="9.6" textLength="141.2" lengthAdjust="spacingAndGlyphs" font-weight="bold" text-anchor="end" fill="#111" stroke="#111" stroke-width="0.15">unidentified_Oscillospiraceae</text>
<rect x="229.4" y="681" width="383.2" height="433.8" fill="none" stroke="#333" stroke-width="1.2" />
<line x1="246.6" y1="1114.8" x2="246.6" y2="1117.3" stroke="#222" stroke-width="1" />
<text x="246.6" y="1126.5" font-size="9.3" textLength="5.5" lengthAdjust="spacingAndGlyphs" font-weight="bold" text-anchor="middle" fill="#111">0</text>
<line x1="375.4" y1="1114.8" x2="375.4" y2="1117.3" stroke="#222" stroke-width="1" />
<text x="375.4" y="1126.5" font-size="9.3" textLength="10.5" lengthAdjust="spacingAndGlyphs" font-weight="bold" text-anchor="middle" fill="#111">10</text>
<line x1="504.2" y1="1114.8" x2="504.2" y2="1117.3" stroke="#222" stroke-width="1" />
<text x="504.2" y="1126.5" font-size="9.3" textLength="10.5" lengthAdjust="spacingAndGlyphs" font-weight="bold" text-anchor="middle" fill="#111">20</text>
<text x="354.8" y="1138.5" font-size="10.6" textLength="132.7" lengthAdjust="spacingAndGlyphs" fill="#111">MeanDecreaseAccuracy</text>
<text font-size="13.89" transform="translate(73.08 918.7) rotate(-90) scale(0.7363 1)" fill="#111" stroke="#111" stroke-width="0.15">Taxnomy</text>
<text font-size="17.04" transform="translate(305.22 1188.43) scale(1.1545 1)" fill="#111" stroke="#111" stroke-width="0.3">CM0vsHCM0</text>
<text font-size="24" transform="translate(86.44 705.16) scale(1.2703 1)" stroke="#000" stroke-width="0.45">J</text>
<rect x="928" y="688.6" width="349" height="38.2" fill="#8DD3C7" stroke="#111" stroke-width="1.4" />
<line x1="907.5" y1="707.7" x2="910.5" y2="707.7" stroke="#222" stroke-width="1" />
<text x="904.8" y="711" font-size="9.6" textLength="45" lengthAdjust="spacingAndGlyphs" font-weight="bold" text-anchor="end" fill="#111" stroke="#111" stroke-width="0.15">Weissella</text>
<rect x="928" y="731.16" width="334.4" height="38.2" fill="#8DD3C7" stroke="#111" stroke-width="1.4" />
<line x1="907.5" y1="750.26" x2="910.5" y2="750.26" stroke="#222" stroke-width="1" />
<text x="904.8" y="753.56" font-size="9.6" textLength="57" lengthAdjust="spacingAndGlyphs" font-weight="bold" text-anchor="end" fill="#111" stroke="#111" stroke-width="0.15">Bacteroides</text>
<rect x="928" y="773.72" width="320.2" height="38.2" fill="#8DD3C7" stroke="#111" stroke-width="1.4" />
<line x1="907.5" y1="792.82" x2="910.5" y2="792.82" stroke="#222" stroke-width="1" />
<text x="904.8" y="796.12" font-size="9.6" textLength="73" lengthAdjust="spacingAndGlyphs" font-weight="bold" text-anchor="end" fill="#111" stroke="#111" stroke-width="0.15">Achromobacter</text>
<rect x="928" y="816.28" width="296.5" height="38.2" fill="#8DD3C7" stroke="#111" stroke-width="1.4" />
<line x1="907.5" y1="835.38" x2="910.5" y2="835.38" stroke="#222" stroke-width="1" />
<text x="904.8" y="838.68" font-size="9.6" textLength="73.5" lengthAdjust="spacingAndGlyphs" font-weight="bold" text-anchor="end" fill="#111" stroke="#111" stroke-width="0.15">Mycobacterium</text>
<rect x="928" y="858.84" width="285.7" height="38.2" fill="#8DD3C7" stroke="#111" stroke-width="1.4" />
<line x1="907.5" y1="877.94" x2="910.5" y2="877.94" stroke="#222" stroke-width="1" />
<text x="904.8" y="881.24" font-size="9.6" textLength="53" lengthAdjust="spacingAndGlyphs" font-weight="bold" text-anchor="end" fill="#111" stroke="#111" stroke-width="0.15">Howardella</text>
<rect x="928" y="901.4" width="237.7" height="38.2" fill="#8DD3C7" stroke="#111" stroke-width="1.4" />
<line x1="907.5" y1="920.5" x2="910.5" y2="920.5" stroke="#222" stroke-width="1" />
<text x="904.8" y="923.8" font-size="9.6" textLength="141.2" lengthAdjust="spacingAndGlyphs" font-weight="bold" text-anchor="end" fill="#111" stroke="#111" stroke-width="0.15">unidentified_Oscillospiraceae</text>
<rect x="928" y="943.96" width="215.1" height="38.2" fill="#8DD3C7" stroke="#111" stroke-width="1.4" />
<line x1="907.5" y1="963.06" x2="910.5" y2="963.06" stroke="#222" stroke-width="1" />
<text x="904.8" y="966.36" font-size="9.6" textLength="54.5" lengthAdjust="spacingAndGlyphs" font-weight="bold" text-anchor="end" fill="#111" stroke="#111" stroke-width="0.15">Eggerthella</text>
<rect x="928" y="986.52" width="214" height="38.2" fill="#8DD3C7" stroke="#111" stroke-width="1.4" />
<line x1="907.5" y1="1005.62" x2="910.5" y2="1005.62" stroke="#222" stroke-width="1" />
<text x="904.8" y="1008.92" font-size="9.6" textLength="79" lengthAdjust="spacingAndGlyphs" font-weight="bold" text-anchor="end" fill="#111" stroke="#111" stroke-width="0.15">Terrisporobacter</text>
<rect x="928" y="1029.08" width="197.9" height="38.2" fill="#8DD3C7" stroke="#111" stroke-width="1.4" />
<line x1="907.5" y1="1048.18" x2="910.5" y2="1048.18" stroke="#222" stroke-width="1" />
<text x="904.8" y="1051.48" font-size="9.6" textLength="66" lengthAdjust="spacingAndGlyphs" font-weight="bold" text-anchor="end" fill="#111" stroke="#111" stroke-width="0.15">Flavonifractor</text>
<rect x="928" y="1071.64" width="196.3" height="38.2" fill="#8DD3C7" stroke="#111" stroke-width="1.4" />
<line x1="907.5" y1="1090.74" x2="910.5" y2="1090.74" stroke="#222" stroke-width="1" />
<text x="904.8" y="1094.04" font-size="9.6" textLength="69.5" lengthAdjust="spacingAndGlyphs" font-weight="bold" text-anchor="end" fill="#111" stroke="#111" stroke-width="0.15">Solobacterium</text>
<rect x="910.5" y="682.3" width="383.8" height="433.6" fill="none" stroke="#333" stroke-width="1.2" />
<line x1="928" y1="1115.9" x2="928" y2="1118.4" stroke="#222" stroke-width="1" />
<text x="928" y="1127.5" font-size="9.3" textLength="5.5" lengthAdjust="spacingAndGlyphs" font-weight="bold" text-anchor="middle" fill="#111">0</text>
<line x1="1042.7" y1="1115.9" x2="1042.7" y2="1118.4" stroke="#222" stroke-width="1" />
<text x="1042.7" y="1127.5" font-size="9.3" textLength="5.5" lengthAdjust="spacingAndGlyphs" font-weight="bold" text-anchor="middle" fill="#111">5</text>
<line x1="1157.6" y1="1115.9" x2="1157.6" y2="1118.4" stroke="#222" stroke-width="1" />
<text x="1157.6" y="1127.5" font-size="9.3" textLength="10.5" lengthAdjust="spacingAndGlyphs" font-weight="bold" text-anchor="middle" fill="#111">10</text>
<line x1="1272.7" y1="1115.9" x2="1272.7" y2="1118.4" stroke="#222" stroke-width="1" />
<text x="1272.7" y="1127.5" font-size="9.3" textLength="10.5" lengthAdjust="spacingAndGlyphs" font-weight="bold" text-anchor="middle" fill="#111">15</text>
<text x="1035.8" y="1139.4" font-size="10.6" textLength="132.7" lengthAdjust="spacingAndGlyphs" fill="#111">MeanDecreaseAccuracy</text>
<text font-size="13.89" transform="translate(754.18 919.9) rotate(-90) scale(0.7363 1)" fill="#111" stroke="#111" stroke-width="0.15">Taxnomy</text>
<text font-size="16.9" transform="translate(1287.81 1184.63) scale(1.1692 1)" fill="#111" stroke="#111" stroke-width="0.3">CM6vsHCM6</text>
<text font-size="24.35" transform="translate(750.18 707) scale(1.2429 1)" stroke="#000" stroke-width="0.45">K</text>
<rect x="721.5" y="1178.3" width="260.7" height="35.5" fill="#8DD3C7" stroke="#111" stroke-width="1.5" />
<line x1="704.4" y1="1196.05" x2="708.8" y2="1196.05" stroke="#222" stroke-width="1" />
<text x="700" y="1199.05" font-size="9.4" textLength="118.4" lengthAdjust="spacingAndGlyphs" font-weight="bold" text-anchor="end" fill="#111" stroke="#111" stroke-width="0.15">Subdoligranulum</text>
<rect x="721.5" y="1217.86" width="212.8" height="35.5" fill="#8DD3C7" stroke="#111" stroke-width="1.5" />
<line x1="704.4" y1="1235.61" x2="708.8" y2="1235.61" stroke="#222" stroke-width="1" />
<text x="700" y="1238.61" font-size="9.4" textLength="114" lengthAdjust="spacingAndGlyphs" font-weight="bold" text-anchor="end" fill="#111" stroke="#111" stroke-width="0.15">Fusicatenibacter</text>
<rect x="721.5" y="1257.41" width="128.3" height="35.5" fill="#8DD3C7" stroke="#111" stroke-width="1.5" />
<line x1="704.4" y1="1275.16" x2="708.8" y2="1275.16" stroke="#222" stroke-width="1" />
<text x="700" y="1278.16" font-size="9.4" textLength="62.5" lengthAdjust="spacingAndGlyphs" font-weight="bold" text-anchor="end" fill="#111" stroke="#111" stroke-width="0.15">UBA1819</text>
<rect x="721.5" y="1296.96" width="126.2" height="35.5" fill="#8DD3C7" stroke="#111" stroke-width="1.5" />
<line x1="704.4" y1="1314.71" x2="708.8" y2="1314.71" stroke="#222" stroke-width="1" />
<text x="700" y="1317.71" font-size="9.4" textLength="65.5" lengthAdjust="spacingAndGlyphs" font-weight="bold" text-anchor="end" fill="#111" stroke="#111" stroke-width="0.15">Sutterella</text>
<rect x="721.5" y="1336.52" width="119.3" height="35.5" fill="#8DD3C7" stroke="#111" stroke-width="1.5" />
<line x1="704.4" y1="1354.27" x2="708.8" y2="1354.27" stroke="#222" stroke-width="1" />
<text x="700" y="1357.27" font-size="9.4" textLength="67" lengthAdjust="spacingAndGlyphs" font-weight="bold" text-anchor="end" fill="#111" stroke="#111" stroke-width="0.15">Klebsiella</text>
<rect x="721.5" y="1376.08" width="114.8" height="35.5" fill="#8DD3C7" stroke="#111" stroke-width="1.5" />
<line x1="704.4" y1="1393.83" x2="708.8" y2="1393.83" stroke="#222" stroke-width="1" />
<text x="700" y="1396.83" font-size="9.4" textLength="67.5" lengthAdjust="spacingAndGlyphs" font-weight="bold" text-anchor="end" fill="#111" stroke="#111" stroke-width="0.15">Prevotella</text>
<rect x="721.5" y="1415.63" width="104.2" height="35.5" fill="#8DD3C7" stroke="#111" stroke-width="1.5" />
<line x1="704.4" y1="1433.38" x2="708.8" y2="1433.38" stroke="#222" stroke-width="1" />
<text x="700" y="1436.38" font-size="9.4" textLength="474" lengthAdjust="spacingAndGlyphs" font-weight="bold" text-anchor="end" fill="#111" stroke="#111" stroke-width="0.15">Ruminococcus_gauvreauii_group_Ruminococcus_gauvreauii_group</text>
<rect x="721.5" y="1455.18" width="96" height="35.5" fill="#8DD3C7" stroke="#111" stroke-width="1.5" />
<line x1="704.4" y1="1472.93" x2="708.8" y2="1472.93" stroke="#222" stroke-width="1" />
<text x="700" y="1475.93" font-size="9.4" textLength="118" lengthAdjust="spacingAndGlyphs" font-weight="bold" text-anchor="end" fill="#111" stroke="#111" stroke-width="0.15">Faecalibacterium</text>
<rect x="721.5" y="1494.74" width="53.2" height="35.5" fill="#8DD3C7" stroke="#111" stroke-width="1.5" />
<line x1="704.4" y1="1512.49" x2="708.8" y2="1512.49" stroke="#222" stroke-width="1" />
<text x="700" y="1515.49" font-size="9.4" textLength="40.5" lengthAdjust="spacingAndGlyphs" font-weight="bold" text-anchor="end" fill="#111" stroke="#111" stroke-width="0.15">Dorea</text>
<rect x="721.5" y="1534.3" width="50" height="35.5" fill="#8DD3C7" stroke="#111" stroke-width="1.5" />
<line x1="704.4" y1="1552.05" x2="708.8" y2="1552.05" stroke="#222" stroke-width="1" />
<text x="700" y="1555.05" font-size="9.4" textLength="84" lengthAdjust="spacingAndGlyphs" font-weight="bold" text-anchor="end" fill="#111" stroke="#111" stroke-width="0.15">Prevotella_9</text>
<rect x="708.8" y="1172.6" width="285.7" height="403" fill="none" stroke="#111" stroke-width="1.3" />
<line x1="721.5" y1="1575.6" x2="721.5" y2="1578.6" stroke="#222" stroke-width="1" />
<text x="721.5" y="1586.2" font-size="8.6" textLength="7.5" lengthAdjust="spacingAndGlyphs" font-weight="bold" text-anchor="middle" fill="#111">0</text>
<line x1="783.6" y1="1575.6" x2="783.6" y2="1578.6" stroke="#222" stroke-width="1" />
<text x="783.6" y="1586.2" font-size="8.6" textLength="15" lengthAdjust="spacingAndGlyphs" font-weight="bold" text-anchor="middle" fill="#111">10</text>
<line x1="845.5" y1="1575.6" x2="845.5" y2="1578.6" stroke="#222" stroke-width="1" />
<text x="845.5" y="1586.2" font-size="8.6" textLength="15" lengthAdjust="spacingAndGlyphs" font-weight="bold" text-anchor="middle" fill="#111">20</text>
<line x1="907.4" y1="1575.6" x2="907.4" y2="1578.6" stroke="#222" stroke-width="1" />
<text x="907.4" y="1586.2" font-size="8.6" textLength="15" lengthAdjust="spacingAndGlyphs" font-weight="bold" text-anchor="middle" fill="#111">30</text>
<line x1="968.5" y1="1575.6" x2="968.5" y2="1578.6" stroke="#222" stroke-width="1" />
<text x="968.5" y="1586.2" font-size="8.6" textLength="15" lengthAdjust="spacingAndGlyphs" font-weight="bold" text-anchor="middle" fill="#111">40</text>
<text x="755.6" y="1597.4" font-size="10.3" textLength="191.9" lengthAdjust="spacingAndGlyphs" fill="#111">MeanDecreaseAccuracy</text>
<text font-size="18.67" transform="translate(211.48 1392.89) rotate(-90) scale(0.5034 1)" fill="#111" stroke="#111" stroke-width="0.15">Taxnomy</text>
<text font-size="18.31" transform="translate(1271.24 1568.62) scale(1.2659 1)" fill="#111" stroke="#111" stroke-width="0.3">CM12vsHCM12</text>
<text font-size="24.64" transform="translate(503.57 1231) scale(1.2313 1)" stroke="#000" stroke-width="0.45">L</text>
<g transform="translate(469.6 921) scale(1)">
<path d="M8.4 171.4 L8.4 155.9 L13.87 155.9 L13.87 141.32 L19.7 141.32 L19.7 138.04 L26.08 138.04 L26.08 134.02 L32.09 134.02 L32.09 107.77 L37.92 107.77 L37.92 88.81 L49.95 88.81 L49.95 77.5 L55.6 77.5 L55.6 73.86 L61.8 73.86 L61.8 66.57 L67.45 66.57 L67.45 58.91 L79.84 58.91 L79.84 55.08 L96.79 55.08 L96.79 40.68 L109 40.68 L109 36.67 L120.67 36.67 L120.67 25.36 L138.16 25.36 L138.16 21.53 L161.86 21.53 L161.86 17.7 L179.72 17.7 L179.72 10.41 L215.62 10.41 L215.62 6.4 L222 6.4 L222 171.4 L8.4 171.4 Z" fill="#d9d9d9" stroke="none" stroke-width="1" />
<path d="M8.4 171.4 L222 171.4 L222 6.4" fill="none" stroke="#4a4a4a" stroke-width="0.6" />
<path d="M8.4 122.54 L19.08 92.64 L29.76 66.57 L40.44 51.98 L51.12 44.14 L61.8 36.67 L72.48 33.02 L83.16 25.73 L93.84 21.9 L104.52 14.06 L115.2 14.06 L125.88 10.23 L136.56 10.23 L147.24 10.23 L157.92 6.4 L168.6 6.4 L179.28 6.4 L189.96 6.4 L200.64 6.4 L211.32 6.4 L222 6.4 L222 6.4 L211.32 17.34 L200.64 21.35 L189.96 25 L179.28 28.83 L168.6 32.65 L157.92 36.48 L147.24 43.41 L136.56 51.07 L125.88 58.54 L115.2 62.55 L104.52 73.49 L93.84 81.15 L83.16 85.16 L72.48 99.75 L61.8 103.94 L51.12 126 L40.44 145.33 L29.76 155.9 L19.08 163.56 L8.4 167.39 Z" fill="rgba(0,255,0,0.2)" stroke="#111" stroke-width="0.55" />
<line x1="8.4" y1="122.54" x2="8.4" y2="167.39" stroke="#111" stroke-width="0.7" />
<line x1="7.2" y1="122.54" x2="9.6" y2="122.54" stroke="#111" stroke-width="0.35" />
<line x1="7.2" y1="167.39" x2="9.6" y2="167.39" stroke="#111" stroke-width="0.35" />
<line x1="19.08" y1="92.64" x2="19.08" y2="163.56" stroke="#111" stroke-width="0.7" />
<line x1="17.88" y1="92.64" x2="20.28" y2="92.64" stroke="#111" stroke-width="0.35" />
<line x1="17.88" y1="163.56" x2="20.28" y2="163.56" stroke="#111" stroke-width="0.35" />
<line x1="29.76" y1="66.57" x2="29.76" y2="155.9" stroke="#111" stroke-width="0.7" />
<line x1="28.56" y1="66.57" x2="30.96" y2="66.57" stroke="#111" stroke-width="0.35" />
<line x1="28.56" y1="155.9" x2="30.96" y2="155.9" stroke="#111" stroke-width="0.35" />
<line x1="40.44" y1="51.98" x2="40.44" y2="145.33" stroke="#111" stroke-width="0.7" />
<line x1="39.24" y1="51.98" x2="41.64" y2="51.98" stroke="#111" stroke-width="0.35" />
<line x1="39.24" y1="145.33" x2="41.64" y2="145.33" stroke="#111" stroke-width="0.35" />
<line x1="51.12" y1="44.14" x2="51.12" y2="126" stroke="#111" stroke-width="0.7" />
<line x1="49.92" y1="44.14" x2="52.32" y2="44.14" stroke="#111" stroke-width="0.35" />
<line x1="49.92" y1="126" x2="52.32" y2="126" stroke="#111" stroke-width="0.35" />
<line x1="61.8" y1="36.67" x2="61.8" y2="103.94" stroke="#111" stroke-width="0.7" />
<line x1="60.6" y1="36.67" x2="63" y2="36.67" stroke="#111" stroke-width="0.35" />
<line x1="60.6" y1="103.94" x2="63" y2="103.94" stroke="#111" stroke-width="0.35" />
<line x1="72.48" y1="33.02" x2="72.48" y2="99.75" stroke="#111" stroke-width="0.7" />
<line x1="71.28" y1="33.02" x2="73.68" y2="33.02" stroke="#111" stroke-width="0.35" />
<line x1="71.28" y1="99.75" x2="73.68" y2="99.75" stroke="#111" stroke-width="0.35" />
<line x1="83.16" y1="25.73" x2="83.16" y2="85.16" stroke="#111" stroke-width="0.7" />
<line x1="81.96" y1="25.73" x2="84.36" y2="25.73" stroke="#111" stroke-width="0.35" />
<line x1="81.96" y1="85.16" x2="84.36" y2="85.16" stroke="#111" stroke-width="0.35" />
<line x1="93.84" y1="21.9" x2="93.84" y2="81.15" stroke="#111" stroke-width="0.7" />
<line x1="92.64" y1="21.9" x2="95.04" y2="21.9" stroke="#111" stroke-width="0.35" />
<line x1="92.64" y1="81.15" x2="95.04" y2="81.15" stroke="#111" stroke-width="0.35" />
<line x1="104.52" y1="14.06" x2="104.52" y2="73.49" stroke="#111" stroke-width="0.7" />
<line x1="103.32" y1="14.06" x2="105.72" y2="14.06" stroke="#111" stroke-width="0.35" />
<line x1="103.32" y1="73.49" x2="105.72" y2="73.49" stroke="#111" stroke-width="0.35" />
<line x1="115.2" y1="14.06" x2="115.2" y2="62.55" stroke="#111" stroke-width="0.7" />
<line x1="114" y1="14.06" x2="116.4" y2="14.06" stroke="#111" stroke-width="0.35" />
<line x1="114" y1="62.55" x2="116.4" y2="62.55" stroke="#111" stroke-width="0.35" />
<line x1="125.88" y1="10.23" x2="125.88" y2="58.54" stroke="#111" stroke-width="0.7" />
<line x1="124.68" y1="10.23" x2="127.08" y2="10.23" stroke="#111" stroke-width="0.35" />
<line x1="124.68" y1="58.54" x2="127.08" y2="58.54" stroke="#111" stroke-width="0.35" />
<line x1="136.56" y1="10.23" x2="136.56" y2="51.07" stroke="#111" stroke-width="0.7" />
<line x1="135.36" y1="10.23" x2="137.76" y2="10.23" stroke="#111" stroke-width="0.35" />
<line x1="135.36" y1="51.07" x2="137.76" y2="51.07" stroke="#111" stroke-width="0.35" />
<line x1="147.24" y1="10.23" x2="147.24" y2="43.41" stroke="#111" stroke-width="0.7" />
<line x1="146.04" y1="10.23" x2="148.44" y2="10.23" stroke="#111" stroke-width="0.35" />
<line x1="146.04" y1="43.41" x2="148.44" y2="43.41" stroke="#111" stroke-width="0.35" />
<line x1="157.92" y1="6.4" x2="157.92" y2="36.48" stroke="#111" stroke-width="0.7" />
<line x1="156.72" y1="6.4" x2="159.12" y2="6.4" stroke="#111" stroke-width="0.35" />
<line x1="156.72" y1="36.48" x2="159.12" y2="36.48" stroke="#111" stroke-width="0.35" />
<line x1="168.6" y1="6.4" x2="168.6" y2="32.65" stroke="#111" stroke-width="0.7" />
<line x1="167.4" y1="6.4" x2="169.8" y2="6.4" stroke="#111" stroke-width="0.35" />
<line x1="167.4" y1="32.65" x2="169.8" y2="32.65" stroke="#111" stroke-width="0.35" />
<line x1="179.28" y1="6.4" x2="179.28" y2="28.83" stroke="#111" stroke-width="0.7" />
<line x1="178.08" y1="6.4" x2="180.48" y2="6.4" stroke="#111" stroke-width="0.35" />
<line x1="178.08" y1="28.83" x2="180.48" y2="28.83" stroke="#111" stroke-width="0.35" />
<line x1="189.96" y1="6.4" x2="189.96" y2="25" stroke="#111" stroke-width="0.7" />
<line x1="188.76" y1="6.4" x2="191.16" y2="6.4" stroke="#111" stroke-width="0.35" />
<line x1="188.76" y1="25" x2="191.16" y2="25" stroke="#111" stroke-width="0.35" />
<line x1="200.64" y1="6.4" x2="200.64" y2="21.35" stroke="#111" stroke-width="0.7" />
<line x1="199.44" y1="6.4" x2="201.84" y2="6.4" stroke="#111" stroke-width="0.35" />
<line x1="199.44" y1="21.35" x2="201.84" y2="21.35" stroke="#111" stroke-width="0.35" />
<line x1="211.32" y1="6.4" x2="211.32" y2="17.34" stroke="#111" stroke-width="0.7" />
<line x1="210.12" y1="6.4" x2="212.52" y2="6.4" stroke="#111" stroke-width="0.35" />
<line x1="210.12" y1="17.34" x2="212.52" y2="17.34" stroke="#111" stroke-width="0.35" />
<line x1="1.5" y1="176.7" x2="228.3" y2="1.2" stroke="#8a8a8a" stroke-width="0.4" />
<path d="M8.4 171.4 L8.4 155.9 L13.87 155.9 L13.87 141.32 L19.7 141.32 L19.7 138.04 L26.08 138.04 L26.08 134.02 L32.09 134.02 L32.09 107.77 L37.92 107.77 L37.92 88.81 L49.95 88.81 L49.95 77.5 L55.6 77.5 L55.6 73.86 L61.8 73.86 L61.8 66.57 L67.45 66.57 L67.45 58.91 L79.84 58.91 L79.84 55.08 L96.79 55.08 L96.79 40.68 L109 40.68 L109 36.67 L120.67 36.67 L120.67 25.36 L138.16 25.36 L138.16 21.53 L161.86 21.53 L161.86 17.7 L179.72 17.7 L179.72 10.41 L215.62 10.41 L215.62 6.4 L222 6.4" fill="none" stroke="#e8342a" stroke-width="1.1" stroke-linejoin="miter"/>
<rect x="0" y="0" width="229.8" height="177.8" fill="none" stroke="#777" stroke-width="1.3" />
<line x1="222" y1="177.8" x2="222" y2="181.1" stroke="#444" stroke-width="0.8" />
<text x="222" y="189" font-size="6.2" text-anchor="middle" fill="#1a1a1a" stroke="#1a1a1a" stroke-width="0.12">0</text>
<line x1="-3.3" y1="171.4" x2="0" y2="171.4" stroke="#444" stroke-width="0.8" />
<text x="-9.8" y="171.4" font-size="6.2" transform="rotate(-90 -9.8 171.4)" text-anchor="middle" fill="#1a1a1a" stroke="#1a1a1a" stroke-width="0.12">0</text>
<line x1="179.28" y1="177.8" x2="179.28" y2="181.1" stroke="#444" stroke-width="0.8" />
<text x="179.28" y="189" font-size="6.2" text-anchor="middle" fill="#1a1a1a" stroke="#1a1a1a" stroke-width="0.12">20</text>
<line x1="-3.3" y1="138.4" x2="0" y2="138.4" stroke="#444" stroke-width="0.8" />
<text x="-9.8" y="138.4" font-size="6.2" transform="rotate(-90 -9.8 138.4)" text-anchor="middle" fill="#1a1a1a" stroke="#1a1a1a" stroke-width="0.12">20</text>
<line x1="136.56" y1="177.8" x2="136.56" y2="181.1" stroke="#444" stroke-width="0.8" />
<text x="136.56" y="189" font-size="6.2" text-anchor="middle" fill="#1a1a1a" stroke="#1a1a1a" stroke-width="0.12">40</text>
<line x1="-3.3" y1="105.4" x2="0" y2="105.4" stroke="#444" stroke-width="0.8" />
<text x="-9.8" y="105.4" font-size="6.2" transform="rotate(-90 -9.8 105.4)" text-anchor="middle" fill="#1a1a1a" stroke="#1a1a1a" stroke-width="0.12">40</text>
<line x1="93.84" y1="177.8" x2="93.84" y2="181.1" stroke="#444" stroke-width="0.8" />
<text x="93.84" y="189" font-size="6.2" text-anchor="middle" fill="#1a1a1a" stroke="#1a1a1a" stroke-width="0.12">60</text>
<line x1="-3.3" y1="72.4" x2="0" y2="72.4" stroke="#444" stroke-width="0.8" />
<text x="-9.8" y="72.4" font-size="6.2" transform="rotate(-90 -9.8 72.4)" text-anchor="middle" fill="#1a1a1a" stroke="#1a1a1a" stroke-width="0.12">60</text>
<line x1="51.12" y1="177.8" x2="51.12" y2="181.1" stroke="#444" stroke-width="0.8" />
<text x="51.12" y="189" font-size="6.2" text-anchor="middle" fill="#1a1a1a" stroke="#1a1a1a" stroke-width="0.12">80</text>
<line x1="-3.3" y1="39.4" x2="0" y2="39.4" stroke="#444" stroke-width="0.8" />
<text x="-9.8" y="39.4" font-size="6.2" transform="rotate(-90 -9.8 39.4)" text-anchor="middle" fill="#1a1a1a" stroke="#1a1a1a" stroke-width="0.12">80</text>
<line x1="8.4" y1="177.8" x2="8.4" y2="181.1" stroke="#444" stroke-width="0.8" />
<text x="8.4" y="189" font-size="6.2" text-anchor="middle" fill="#1a1a1a" stroke="#1a1a1a" stroke-width="0.12">100</text>
<line x1="-3.3" y1="6.4" x2="0" y2="6.4" stroke="#444" stroke-width="0.8" />
<text x="-9.8" y="6.4" font-size="6.2" transform="rotate(-90 -9.8 6.4)" text-anchor="middle" fill="#1a1a1a" stroke="#1a1a1a" stroke-width="0.12">100</text>
<text x="114.9" y="198.6" font-size="6.6" textLength="41.5" lengthAdjust="spacingAndGlyphs" text-anchor="middle" fill="#1a1a1a" stroke="#1a1a1a" stroke-width="0.12">Specificity (%)</text>
<text x="-21.6" y="89" font-size="6.6" transform="rotate(-90 -21.6 89)" textLength="34" lengthAdjust="spacingAndGlyphs" text-anchor="middle" fill="#1a1a1a" stroke="#1a1a1a" stroke-width="0.12">Sensitivity (%)</text>
<rect x="123.1" y="148.3" width="95.8" height="21" fill="#d9d9d9" stroke="#444" stroke-width="0.8" />
<text x="135.4" y="156.9" font-size="6" textLength="43.4" lengthAdjust="spacingAndGlyphs" fill="#111" stroke="#111" stroke-width="0.12">AUC= 73.74 %</text>
<text x="135.4" y="163.8" font-size="6" textLength="79.7" lengthAdjust="spacingAndGlyphs" fill="#111" stroke="#111" stroke-width="0.12">95% CI: 62.63 %– 84.84 %</text>
</g>
<g transform="translate(1211.7 921) scale(1)">
<path d="M8.4 171.4 L8.4 124.26 L29.76 124.26 L29.76 53.54 L115.2 53.54 L115.2 29.98 L222 29.98 L222 6.4 L222 171.4 L8.4 171.4 Z" fill="#d9d9d9" stroke="none" stroke-width="1" />
<path d="M8.4 171.4 L222 171.4 L222 6.4" fill="none" stroke="#4a4a4a" stroke-width="0.6" />
<path d="M8.4 6.4 L19.08 6.4 L29.76 6.4 L40.44 6.4 L51.12 6.4 L61.8 6.4 L72.48 6.4 L83.16 6.4 L93.84 6.4 L104.52 6.4 L115.2 6.4 L125.88 6.4 L136.56 6.4 L147.24 6.4 L157.92 6.4 L168.6 6.4 L179.28 6.4 L189.96 6.4 L200.64 6.4 L211.32 6.4 L222 6.4 L222 6.4 L211.32 77.52 L200.64 77.52 L189.96 77.52 L179.28 77.52 L168.6 77.52 L157.92 77.52 L147.24 77.52 L136.56 77.52 L125.88 100.62 L115.2 100.62 L104.52 100.62 L93.84 100.62 L83.16 100.62 L72.48 100.62 L61.8 124.87 L51.12 124.87 L40.44 171.4 L29.76 171.4 L19.08 171.4 L8.4 171.4 Z" fill="rgba(0,255,0,0.2)" stroke="#111" stroke-width="0.55" />
<line x1="8.4" y1="6.4" x2="8.4" y2="171.4" stroke="#111" stroke-width="0.7" />
<line x1="7.2" y1="6.4" x2="9.6" y2="6.4" stroke="#111" stroke-width="0.35" />
<line x1="7.2" y1="171.4" x2="9.6" y2="171.4" stroke="#111" stroke-width="0.35" />
<line x1="19.08" y1="6.4" x2="19.08" y2="171.4" stroke="#111" stroke-width="0.7" />
<line x1="17.88" y1="6.4" x2="20.28" y2="6.4" stroke="#111" stroke-width="0.35" />
<line x1="17.88" y1="171.4" x2="20.28" y2="171.4" stroke="#111" stroke-width="0.35" />
<line x1="29.76" y1="6.4" x2="29.76" y2="171.4" stroke="#111" stroke-width="0.7" />
<line x1="28.56" y1="6.4" x2="30.96" y2="6.4" stroke="#111" stroke-width="0.35" />
<line x1="28.56" y1="171.4" x2="30.96" y2="171.4" stroke="#111" stroke-width="0.35" />
<line x1="40.44" y1="6.4" x2="40.44" y2="171.4" stroke="#111" stroke-width="0.7" />
<line x1="39.24" y1="6.4" x2="41.64" y2="6.4" stroke="#111" stroke-width="0.35" />
<line x1="39.24" y1="171.4" x2="41.64" y2="171.4" stroke="#111" stroke-width="0.35" />
<line x1="51.12" y1="6.4" x2="51.12" y2="124.87" stroke="#111" stroke-width="0.7" />
<line x1="49.92" y1="6.4" x2="52.32" y2="6.4" stroke="#111" stroke-width="0.35" />
<line x1="49.92" y1="124.87" x2="52.32" y2="124.87" stroke="#111" stroke-width="0.35" />
<line x1="61.8" y1="6.4" x2="61.8" y2="124.87" stroke="#111" stroke-width="0.7" />
<line x1="60.6" y1="6.4" x2="63" y2="6.4" stroke="#111" stroke-width="0.35" />
<line x1="60.6" y1="124.87" x2="63" y2="124.87" stroke="#111" stroke-width="0.35" />
<line x1="72.48" y1="6.4" x2="72.48" y2="100.62" stroke="#111" stroke-width="0.7" />
<line x1="71.28" y1="6.4" x2="73.68" y2="6.4" stroke="#111" stroke-width="0.35" />
<line x1="71.28" y1="100.62" x2="73.68" y2="100.62" stroke="#111" stroke-width="0.35" />
<line x1="83.16" y1="6.4" x2="83.16" y2="100.62" stroke="#111" stroke-width="0.7" />
<line x1="81.96" y1="6.4" x2="84.36" y2="6.4" stroke="#111" stroke-width="0.35" />
<line x1="81.96" y1="100.62" x2="84.36" y2="100.62" stroke="#111" stroke-width="0.35" />
<line x1="93.84" y1="6.4" x2="93.84" y2="100.62" stroke="#111" stroke-width="0.7" />
<line x1="92.64" y1="6.4" x2="95.04" y2="6.4" stroke="#111" stroke-width="0.35" />
<line x1="92.64" y1="100.62" x2="95.04" y2="100.62" stroke="#111" stroke-width="0.35" />
<line x1="104.52" y1="6.4" x2="104.52" y2="100.62" stroke="#111" stroke-width="0.7" />
<line x1="103.32" y1="6.4" x2="105.72" y2="6.4" stroke="#111" stroke-width="0.35" />
<line x1="103.32" y1="100.62" x2="105.72" y2="100.62" stroke="#111" stroke-width="0.35" />
<line x1="115.2" y1="6.4" x2="115.2" y2="100.62" stroke="#111" stroke-width="0.7" />
<line x1="114" y1="6.4" x2="116.4" y2="6.4" stroke="#111" stroke-width="0.35" />
<line x1="114" y1="100.62" x2="116.4" y2="100.62" stroke="#111" stroke-width="0.35" />
<line x1="125.88" y1="6.4" x2="125.88" y2="100.62" stroke="#111" stroke-width="0.7" />
<line x1="124.68" y1="6.4" x2="127.08" y2="6.4" stroke="#111" stroke-width="0.35" />
<line x1="124.68" y1="100.62" x2="127.08" y2="100.62" stroke="#111" stroke-width="0.35" />
<line x1="136.56" y1="6.4" x2="136.56" y2="77.52" stroke="#111" stroke-width="0.7" />
<line x1="135.36" y1="6.4" x2="137.76" y2="6.4" stroke="#111" stroke-width="0.35" />
<line x1="135.36" y1="77.52" x2="137.76" y2="77.52" stroke="#111" stroke-width="0.35" />
<line x1="147.24" y1="6.4" x2="147.24" y2="77.52" stroke="#111" stroke-width="0.7" />
<line x1="146.04" y1="6.4" x2="148.44" y2="6.4" stroke="#111" stroke-width="0.35" />
<line x1="146.04" y1="77.52" x2="148.44" y2="77.52" stroke="#111" stroke-width="0.35" />
<line x1="157.92" y1="6.4" x2="157.92" y2="77.52" stroke="#111" stroke-width="0.7" />
<line x1="156.72" y1="6.4" x2="159.12" y2="6.4" stroke="#111" stroke-width="0.35" />
<line x1="156.72" y1="77.52" x2="159.12" y2="77.52" stroke="#111" stroke-width="0.35" />
<line x1="168.6" y1="6.4" x2="168.6" y2="77.52" stroke="#111" stroke-width="0.7" />
<line x1="167.4" y1="6.4" x2="169.8" y2="6.4" stroke="#111" stroke-width="0.35" />
<line x1="167.4" y1="77.52" x2="169.8" y2="77.52" stroke="#111" stroke-width="0.35" />
<line x1="179.28" y1="6.4" x2="179.28" y2="77.52" stroke="#111" stroke-width="0.7" />
<line x1="178.08" y1="6.4" x2="180.48" y2="6.4" stroke="#111" stroke-width="0.35" />
<line x1="178.08" y1="77.52" x2="180.48" y2="77.52" stroke="#111" stroke-width="0.35" />
<line x1="189.96" y1="6.4" x2="189.96" y2="77.52" stroke="#111" stroke-width="0.7" />
<line x1="188.76" y1="6.4" x2="191.16" y2="6.4" stroke="#111" stroke-width="0.35" />
<line x1="188.76" y1="77.52" x2="191.16" y2="77.52" stroke="#111" stroke-width="0.35" />
<line x1="200.64" y1="6.4" x2="200.64" y2="77.52" stroke="#111" stroke-width="0.7" />
<line x1="199.44" y1="6.4" x2="201.84" y2="6.4" stroke="#111" stroke-width="0.35" />
<line x1="199.44" y1="77.52" x2="201.84" y2="77.52" stroke="#111" stroke-width="0.35" />
<line x1="211.32" y1="6.4" x2="211.32" y2="77.52" stroke="#111" stroke-width="0.7" />
<line x1="210.12" y1="6.4" x2="212.52" y2="6.4" stroke="#111" stroke-width="0.35" />
<line x1="210.12" y1="77.52" x2="212.52" y2="77.52" stroke="#111" stroke-width="0.35" />
<line x1="1.5" y1="176.7" x2="229.1" y2="1.2" stroke="#8a8a8a" stroke-width="0.4" />
<path d="M8.4 171.4 L8.4 124.26 L29.76 124.26 L29.76 53.54 L115.2 53.54 L115.2 29.98 L222 29.98 L222 6.4" fill="none" stroke="#e8342a" stroke-width="1.1" stroke-linejoin="miter"/>
<rect x="0" y="0" width="230.6" height="177.8" fill="none" stroke="#777" stroke-width="1.3" />
<line x1="222" y1="177.8" x2="222" y2="181.1" stroke="#444" stroke-width="0.8" />
<text x="222" y="189" font-size="6.2" text-anchor="middle" fill="#1a1a1a" stroke="#1a1a1a" stroke-width="0.12">0</text>
<line x1="-3.3" y1="171.4" x2="0" y2="171.4" stroke="#444" stroke-width="0.8" />
<text x="-9.8" y="171.4" font-size="6.2" transform="rotate(-90 -9.8 171.4)" text-anchor="middle" fill="#1a1a1a" stroke="#1a1a1a" stroke-width="0.12">0</text>
<line x1="179.28" y1="177.8" x2="179.28" y2="181.1" stroke="#444" stroke-width="0.8" />
<text x="179.28" y="189" font-size="6.2" text-anchor="middle" fill="#1a1a1a" stroke="#1a1a1a" stroke-width="0.12">20</text>
<line x1="-3.3" y1="138.4" x2="0" y2="138.4" stroke="#444" stroke-width="0.8" />
<text x="-9.8" y="138.4" font-size="6.2" transform="rotate(-90 -9.8 138.4)" text-anchor="middle" fill="#1a1a1a" stroke="#1a1a1a" stroke-width="0.12">20</text>
<line x1="136.56" y1="177.8" x2="136.56" y2="181.1" stroke="#444" stroke-width="0.8" />
<text x="136.56" y="189" font-size="6.2" text-anchor="middle" fill="#1a1a1a" stroke="#1a1a1a" stroke-width="0.12">40</text>
<line x1="-3.3" y1="105.4" x2="0" y2="105.4" stroke="#444" stroke-width="0.8" />
<text x="-9.8" y="105.4" font-size="6.2" transform="rotate(-90 -9.8 105.4)" text-anchor="middle" fill="#1a1a1a" stroke="#1a1a1a" stroke-width="0.12">40</text>
<line x1="93.84" y1="177.8" x2="93.84" y2="181.1" stroke="#444" stroke-width="0.8" />
<text x="93.84" y="189" font-size="6.2" text-anchor="middle" fill="#1a1a1a" stroke="#1a1a1a" stroke-width="0.12">60</text>
<line x1="-3.3" y1="72.4" x2="0" y2="72.4" stroke="#444" stroke-width="0.8" />
<text x="-9.8" y="72.4" font-size="6.2" transform="rotate(-90 -9.8 72.4)" text-anchor="middle" fill="#1a1a1a" stroke="#1a1a1a" stroke-width="0.12">60</text>
<line x1="51.12" y1="177.8" x2="51.12" y2="181.1" stroke="#444" stroke-width="0.8" />
<text x="51.12" y="189" font-size="6.2" text-anchor="middle" fill="#1a1a1a" stroke="#1a1a1a" stroke-width="0.12">80</text>
<line x1="-3.3" y1="39.4" x2="0" y2="39.4" stroke="#444" stroke-width="0.8" />
<text x="-9.8" y="39.4" font-size="6.2" transform="rotate(-90 -9.8 39.4)" text-anchor="middle" fill="#1a1a1a" stroke="#1a1a1a" stroke-width="0.12">80</text>
<line x1="8.4" y1="177.8" x2="8.4" y2="181.1" stroke="#444" stroke-width="0.8" />
<text x="8.4" y="189" font-size="6.2" text-anchor="middle" fill="#1a1a1a" stroke="#1a1a1a" stroke-width="0.12">100</text>
<line x1="-3.3" y1="6.4" x2="0" y2="6.4" stroke="#444" stroke-width="0.8" />
<text x="-9.8" y="6.4" font-size="6.2" transform="rotate(-90 -9.8 6.4)" text-anchor="middle" fill="#1a1a1a" stroke="#1a1a1a" stroke-width="0.12">100</text>
<text x="115.3" y="198.6" font-size="6.6" textLength="41.5" lengthAdjust="spacingAndGlyphs" text-anchor="middle" fill="#1a1a1a" stroke="#1a1a1a" stroke-width="0.12">Specificity (%)</text>
<text x="-21.6" y="89" font-size="6.6" transform="rotate(-90 -21.6 89)" textLength="34" lengthAdjust="spacingAndGlyphs" text-anchor="middle" fill="#1a1a1a" stroke="#1a1a1a" stroke-width="0.12">Sensitivity (%)</text>
<rect x="128.8" y="148.3" width="90.1" height="21" fill="#d9d9d9" stroke="#444" stroke-width="0.8" />
<text x="141.3" y="156.9" font-size="6" textLength="43.4" lengthAdjust="spacingAndGlyphs" fill="#111" stroke="#111" stroke-width="0.12">AUC= 74.29 %</text>
<text x="141.3" y="163.8" font-size="6" textLength="74.5" lengthAdjust="spacingAndGlyphs" fill="#111" stroke="#111" stroke-width="0.12">95% CI: 44.86 %– 100 %</text>
</g>
<g transform="translate(900.8 1350.4) scale(1.17)">
<path d="M8.4 171.4 L51.12 171.4 L51.12 30 L115.2 30 L115.2 6.4 L222 6.4 L222 171.4 L8.4 171.4 Z" fill="#d9d9d9" stroke="none" stroke-width="1" />
<path d="M8.4 171.4 L222 171.4 L222 6.4" fill="none" stroke="#4a4a4a" stroke-width="0.6" />
<path d="M8.4 6.4 L19.08 6.4 L29.76 6.4 L40.44 6.4 L51.12 6.4 L61.8 6.4 L72.48 6.4 L83.16 6.4 L93.84 6.4 L104.52 6.4 L115.2 6.4 L125.88 6.4 L136.56 6.4 L147.24 6.4 L157.92 6.4 L168.6 6.4 L179.28 6.4 L189.96 6.4 L200.64 6.4 L211.32 6.4 L222 6.4 L222 6.4 L211.32 6.4 L200.64 6.4 L189.96 6.4 L179.28 6.4 L168.6 30 L157.92 30 L147.24 53.59 L136.56 53.59 L125.88 77.19 L115.2 77.19 L104.52 171.4 L93.84 171.4 L83.16 171.4 L72.48 171.4 L61.8 171.4 L51.12 171.4 L40.44 171.4 L29.76 171.4 L19.08 171.4 L8.4 171.4 Z" fill="rgba(0,255,0,0.2)" stroke="#111" stroke-width="0.55" />
<line x1="8.4" y1="6.4" x2="8.4" y2="171.4" stroke="#111" stroke-width="0.7" />
<line x1="7.2" y1="6.4" x2="9.6" y2="6.4" stroke="#111" stroke-width="0.35" />
<line x1="7.2" y1="171.4" x2="9.6" y2="171.4" stroke="#111" stroke-width="0.35" />
<line x1="19.08" y1="6.4" x2="19.08" y2="171.4" stroke="#111" stroke-width="0.7" />
<line x1="17.88" y1="6.4" x2="20.28" y2="6.4" stroke="#111" stroke-width="0.35" />
<line x1="17.88" y1="171.4" x2="20.28" y2="171.4" stroke="#111" stroke-width="0.35" />
<line x1="29.76" y1="6.4" x2="29.76" y2="171.4" stroke="#111" stroke-width="0.7" />
<line x1="28.56" y1="6.4" x2="30.96" y2="6.4" stroke="#111" stroke-width="0.35" />
<line x1="28.56" y1="171.4" x2="30.96" y2="171.4" stroke="#111" stroke-width="0.35" />
<line x1="40.44" y1="6.4" x2="40.44" y2="171.4" stroke="#111" stroke-width="0.7" />
<line x1="39.24" y1="6.4" x2="41.64" y2="6.4" stroke="#111" stroke-width="0.35" />
<line x1="39.24" y1="171.4" x2="41.64" y2="171.4" stroke="#111" stroke-width="0.35" />
<line x1="51.12" y1="6.4" x2="51.12" y2="171.4" stroke="#111" stroke-width="0.7" />
<line x1="49.92" y1="6.4" x2="52.32" y2="6.4" stroke="#111" stroke-width="0.35" />
<line x1="49.92" y1="171.4" x2="52.32" y2="171.4" stroke="#111" stroke-width="0.35" />
<line x1="61.8" y1="6.4" x2="61.8" y2="171.4" stroke="#111" stroke-width="0.7" />
<line x1="60.6" y1="6.4" x2="63" y2="6.4" stroke="#111" stroke-width="0.35" />
<line x1="60.6" y1="171.4" x2="63" y2="171.4" stroke="#111" stroke-width="0.35" />
<line x1="72.48" y1="6.4" x2="72.48" y2="171.4" stroke="#111" stroke-width="0.7" />
<line x1="71.28" y1="6.4" x2="73.68" y2="6.4" stroke="#111" stroke-width="0.35" />
<line x1="71.28" y1="171.4" x2="73.68" y2="171.4" stroke="#111" stroke-width="0.35" />
<line x1="83.16" y1="6.4" x2="83.16" y2="171.4" stroke="#111" stroke-width="0.7" />
<line x1="81.96" y1="6.4" x2="84.36" y2="6.4" stroke="#111" stroke-width="0.35" />
<line x1="81.96" y1="171.4" x2="84.36" y2="171.4" stroke="#111" stroke-width="0.35" />
<line x1="93.84" y1="6.4" x2="93.84" y2="171.4" stroke="#111" stroke-width="0.7" />
<line x1="92.64" y1="6.4" x2="95.04" y2="6.4" stroke="#111" stroke-width="0.35" />
<line x1="92.64" y1="171.4" x2="95.04" y2="171.4" stroke="#111" stroke-width="0.35" />
<line x1="104.52" y1="6.4" x2="104.52" y2="171.4" stroke="#111" stroke-width="0.7" />
<line x1="103.32" y1="6.4" x2="105.72" y2="6.4" stroke="#111" stroke-width="0.35" />
<line x1="103.32" y1="171.4" x2="105.72" y2="171.4" stroke="#111" stroke-width="0.35" />
<line x1="115.2" y1="6.4" x2="115.2" y2="77.19" stroke="#111" stroke-width="0.7" />
<line x1="114" y1="6.4" x2="116.4" y2="6.4" stroke="#111" stroke-width="0.35" />
<line x1="114" y1="77.19" x2="116.4" y2="77.19" stroke="#111" stroke-width="0.35" />
<line x1="125.88" y1="6.4" x2="125.88" y2="77.19" stroke="#111" stroke-width="0.7" />
<line x1="124.68" y1="6.4" x2="127.08" y2="6.4" stroke="#111" stroke-width="0.35" />
<line x1="124.68" y1="77.19" x2="127.08" y2="77.19" stroke="#111" stroke-width="0.35" />
<line x1="136.56" y1="6.4" x2="136.56" y2="53.59" stroke="#111" stroke-width="0.7" />
<line x1="135.36" y1="6.4" x2="137.76" y2="6.4" stroke="#111" stroke-width="0.35" />
<line x1="135.36" y1="53.59" x2="137.76" y2="53.59" stroke="#111" stroke-width="0.35" />
<line x1="147.24" y1="6.4" x2="147.24" y2="53.59" stroke="#111" stroke-width="0.7" />
<line x1="146.04" y1="6.4" x2="148.44" y2="6.4" stroke="#111" stroke-width="0.35" />
<line x1="146.04" y1="53.59" x2="148.44" y2="53.59" stroke="#111" stroke-width="0.35" />
<line x1="157.92" y1="6.4" x2="157.92" y2="30" stroke="#111" stroke-width="0.7" />
<line x1="156.72" y1="6.4" x2="159.12" y2="6.4" stroke="#111" stroke-width="0.35" />
<line x1="156.72" y1="30" x2="159.12" y2="30" stroke="#111" stroke-width="0.35" />
<line x1="168.6" y1="6.4" x2="168.6" y2="30" stroke="#111" stroke-width="0.7" />
<line x1="167.4" y1="6.4" x2="169.8" y2="6.4" stroke="#111" stroke-width="0.35" />
<line x1="167.4" y1="30" x2="169.8" y2="30" stroke="#111" stroke-width="0.35" />
<line x1="1.5" y1="176.7" x2="228.9" y2="1.2" stroke="#8a8a8a" stroke-width="0.4" />
<path d="M8.4 171.4 L51.12 171.4 L51.12 30 L115.2 30 L115.2 6.4 L222 6.4" fill="none" stroke="#e8342a" stroke-width="1.1" stroke-linejoin="miter"/>
<rect x="0" y="0" width="230.4" height="177.8" fill="none" stroke="#777" stroke-width="1.3" />
<line x1="222" y1="177.8" x2="222" y2="181.1" stroke="#444" stroke-width="0.8" />
<text x="222" y="189" font-size="6.2" text-anchor="middle" fill="#1a1a1a" stroke="#1a1a1a" stroke-width="0.12">0</text>
<line x1="-3.3" y1="171.4" x2="0" y2="171.4" stroke="#444" stroke-width="0.8" />
<text x="-9.8" y="171.4" font-size="6.2" transform="rotate(-90 -9.8 171.4)" text-anchor="middle" fill="#1a1a1a" stroke="#1a1a1a" stroke-width="0.12">0</text>
<line x1="179.28" y1="177.8" x2="179.28" y2="181.1" stroke="#444" stroke-width="0.8" />
<text x="179.28" y="189" font-size="6.2" text-anchor="middle" fill="#1a1a1a" stroke="#1a1a1a" stroke-width="0.12">20</text>
<line x1="-3.3" y1="138.4" x2="0" y2="138.4" stroke="#444" stroke-width="0.8" />
<text x="-9.8" y="138.4" font-size="6.2" transform="rotate(-90 -9.8 138.4)" text-anchor="middle" fill="#1a1a1a" stroke="#1a1a1a" stroke-width="0.12">20</text>
<line x1="136.56" y1="177.8" x2="136.56" y2="181.1" stroke="#444" stroke-width="0.8" />
<text x="136.56" y="189" font-size="6.2" text-anchor="middle" fill="#1a1a1a" stroke="#1a1a1a" stroke-width="0.12">40</text>
<line x1="-3.3" y1="105.4" x2="0" y2="105.4" stroke="#444" stroke-width="0.8" />
<text x="-9.8" y="105.4" font-size="6.2" transform="rotate(-90 -9.8 105.4)" text-anchor="middle" fill="#1a1a1a" stroke="#1a1a1a" stroke-width="0.12">40</text>
<line x1="93.84" y1="177.8" x2="93.84" y2="181.1" stroke="#444" stroke-width="0.8" />
<text x="93.84" y="189" font-size="6.2" text-anchor="middle" fill="#1a1a1a" stroke="#1a1a1a" stroke-width="0.12">60</text>
<line x1="-3.3" y1="72.4" x2="0" y2="72.4" stroke="#444" stroke-width="0.8" />
<text x="-9.8" y="72.4" font-size="6.2" transform="rotate(-90 -9.8 72.4)" text-anchor="middle" fill="#1a1a1a" stroke="#1a1a1a" stroke-width="0.12">60</text>
<line x1="51.12" y1="177.8" x2="51.12" y2="181.1" stroke="#444" stroke-width="0.8" />
<text x="51.12" y="189" font-size="6.2" text-anchor="middle" fill="#1a1a1a" stroke="#1a1a1a" stroke-width="0.12">80</text>
<line x1="-3.3" y1="39.4" x2="0" y2="39.4" stroke="#444" stroke-width="0.8" />
<text x="-9.8" y="39.4" font-size="6.2" transform="rotate(-90 -9.8 39.4)" text-anchor="middle" fill="#1a1a1a" stroke="#1a1a1a" stroke-width="0.12">80</text>
<line x1="8.4" y1="177.8" x2="8.4" y2="181.1" stroke="#444" stroke-width="0.8" />
<text x="8.4" y="189" font-size="6.2" text-anchor="middle" fill="#1a1a1a" stroke="#1a1a1a" stroke-width="0.12">100</text>
<line x1="-3.3" y1="6.4" x2="0" y2="6.4" stroke="#444" stroke-width="0.8" />
<text x="-9.8" y="6.4" font-size="6.2" transform="rotate(-90 -9.8 6.4)" text-anchor="middle" fill="#1a1a1a" stroke="#1a1a1a" stroke-width="0.12">100</text>
<text x="115.2" y="198.6" font-size="6.6" textLength="41.5" lengthAdjust="spacingAndGlyphs" text-anchor="middle" fill="#1a1a1a" stroke="#1a1a1a" stroke-width="0.12">Specificity (%)</text>
<text x="-21.6" y="89" font-size="6.6" transform="rotate(-90 -21.6 89)" textLength="34" lengthAdjust="spacingAndGlyphs" text-anchor="middle" fill="#1a1a1a" stroke="#1a1a1a" stroke-width="0.12">Sensitivity (%)</text>
<rect x="128.9" y="148.3" width="90" height="21" fill="#d9d9d9" stroke="#444" stroke-width="0.8" />
<text x="141.3" y="156.9" font-size="6" textLength="43.4" lengthAdjust="spacingAndGlyphs" fill="#111" stroke="#111" stroke-width="0.12">AUC= 75.71 %</text>
<text x="141.3" y="163.8" font-size="6" textLength="74.5" lengthAdjust="spacingAndGlyphs" fill="#111" stroke="#111" stroke-width="0.12">95% CI: 49.28 %– 100 %</text>
</g>
</svg>
</body>
</html>
